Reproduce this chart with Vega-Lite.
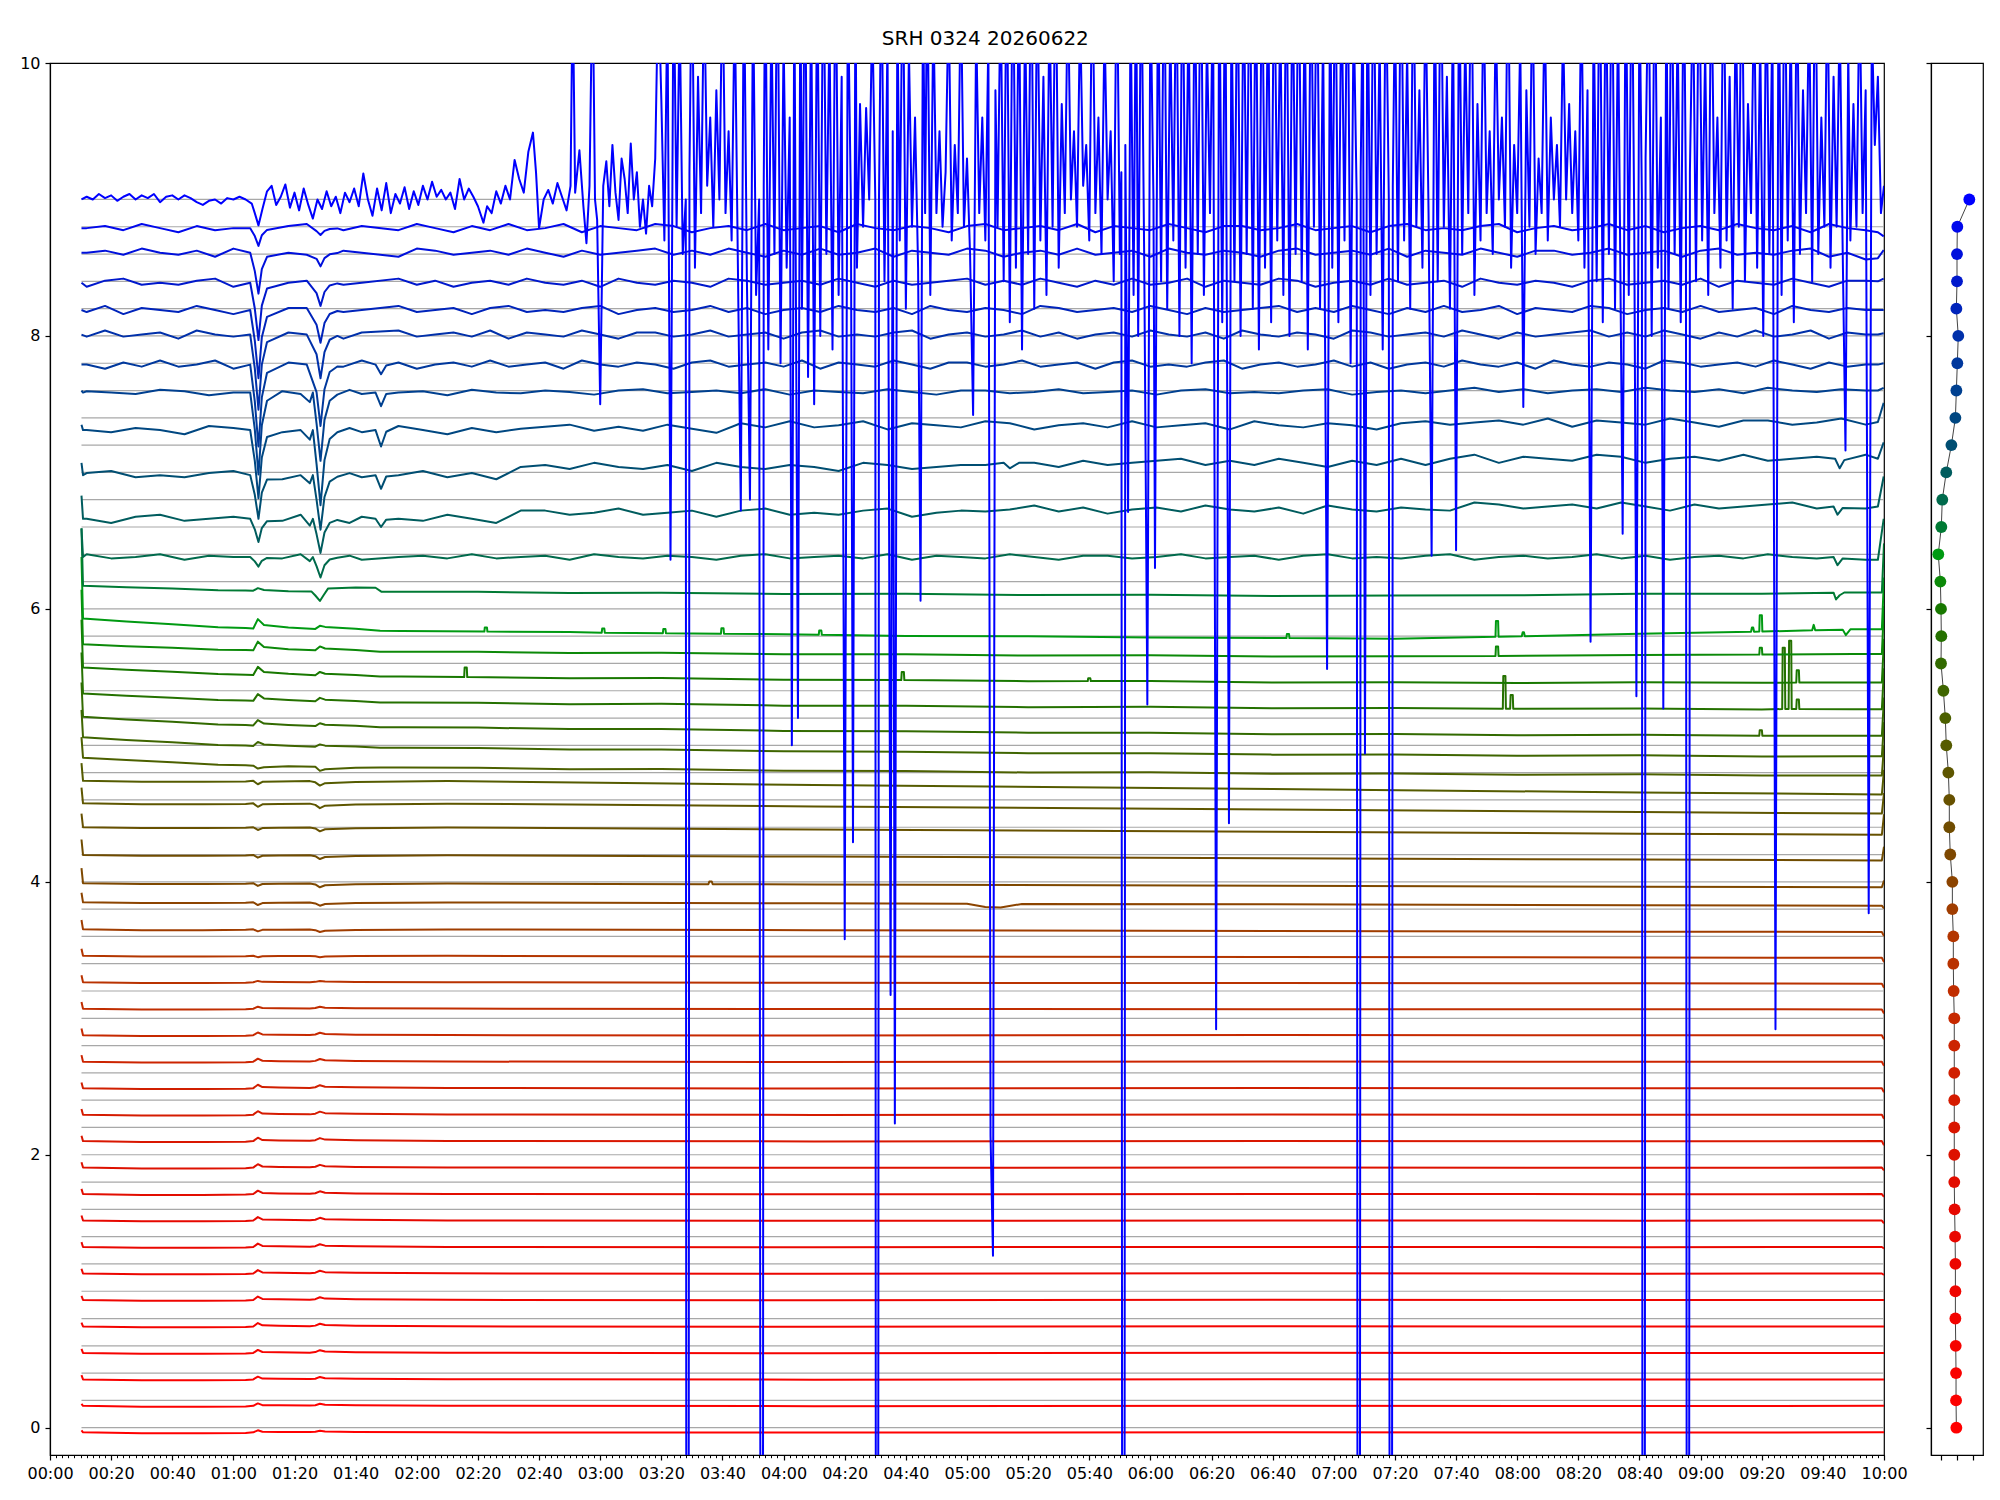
{
  "$schema": "https://vega.github.io/schema/vega-lite/v6.json",
  "title": {"text": "SRH 0324 20260622", "font": "DejaVu Sans", "fontSize": 20, "fontWeight": "normal", "color": "#000", "anchor": "middle", "baseline": "alphabetic", "offset": -11, "dx": -16},
  "padding": {"left": 19, "top": 29, "right": 10, "bottom": 10},
  "spacing": 47,
  "bounds": "flush",
  "config": {
    "view": {"stroke": "#000", "strokeWidth": 1.2},
    "axis": {"labelFont": "DejaVu Sans", "labelFontSize": 16, "labelColor": "#000", "tickColor": "#000", "domainColor": "#000", "tickWidth": 1.2, "domainWidth": 1.2, "grid": false, "title": null, "labelOverlap": false, "labelFlush": false}
  },
  "datasets": {
    "levels": [{"g":0},{"g":0.2},{"g":0.4},{"g":0.6},{"g":0.8},{"g":1},{"g":1.2},{"g":1.4},{"g":1.6},{"g":1.8},{"g":2},{"g":2.2},{"g":2.4},{"g":2.6},{"g":2.8},{"g":3},{"g":3.2},{"g":3.4},{"g":3.6},{"g":3.8},{"g":4},{"g":4.2},{"g":4.4},{"g":4.6},{"g":4.8},{"g":5},{"g":5.2},{"g":5.4},{"g":5.6},{"g":5.8},{"g":6},{"g":6.2},{"g":6.4},{"g":6.6},{"g":6.8},{"g":7},{"g":7.2},{"g":7.4},{"g":7.6},{"g":7.8},{"g":8},{"g":8.2},{"g":8.4},{"g":8.6},{"g":8.8},{"g":9}],
    "panel": [{"c":0,"y":0,"x":-0.04},{"c":1,"y":0.2,"x":-0.06},{"c":2,"y":0.4,"x":-0.06},{"c":3,"y":0.6,"x":-0.08},{"c":4,"y":0.8,"x":-0.1},{"c":5,"y":1,"x":-0.1},{"c":6,"y":1.2,"x":-0.1},{"c":7,"y":1.4,"x":-0.12},{"c":8,"y":1.6,"x":-0.15},{"c":9,"y":1.8,"x":-0.17},{"c":10,"y":2,"x":-0.17},{"c":11,"y":2.2,"x":-0.17},{"c":12,"y":2.4,"x":-0.17},{"c":13,"y":2.6,"x":-0.17},{"c":14,"y":2.8,"x":-0.17},{"c":15,"y":3,"x":-0.17},{"c":16,"y":3.2,"x":-0.21},{"c":17,"y":3.4,"x":-0.23},{"c":18,"y":3.6,"x":-0.23},{"c":19,"y":3.8,"x":-0.29},{"c":20,"y":4,"x":-0.29},{"c":21,"y":4.2,"x":-0.42},{"c":22,"y":4.4,"x":-0.48},{"c":23,"y":4.6,"x":-0.48},{"c":24,"y":4.8,"x":-0.54},{"c":25,"y":5,"x":-0.67},{"c":26,"y":5.2,"x":-0.73},{"c":27,"y":5.4,"x":-0.85},{"c":28,"y":5.6,"x":-1.0},{"c":29,"y":5.8,"x":-0.98},{"c":30,"y":6,"x":-1.0},{"c":31,"y":6.2,"x":-1.04},{"c":32,"y":6.4,"x":-1.17},{"c":33,"y":6.6,"x":-0.98},{"c":34,"y":6.8,"x":-0.92},{"c":35,"y":7,"x":-0.67},{"c":36,"y":7.2,"x":-0.35},{"c":37,"y":7.4,"x":-0.1},{"c":38,"y":7.6,"x":-0.04},{"c":39,"y":7.8,"x":0.02},{"c":40,"y":8,"x":0.08},{"c":41,"y":8.2,"x":-0.04},{"c":42,"y":8.4,"x":0.0},{"c":43,"y":8.6,"x":0.0},{"c":44,"y":8.8,"x":0.02},{"c":45,"y":9,"x":0.77}],
    "traces": [
{"c":0,"t":10.3,"v":-0.02},{"c":0,"t":10.8,"v":-0.034},{"c":0,"t":30,"v":-0.04},{"c":0,"t":50,"v":-0.04},{"c":0,"t":64,"v":-0.038},{"c":0,"t":66.5,"v":-0.034},{"c":0,"t":68,"v":-0.019},{"c":0,"t":69.5,"v":-0.03},{"c":0,"t":75,"v":-0.031},{"c":0,"t":85,"v":-0.032},{"c":0,"t":86.8,"v":-0.03},{"c":0,"t":88.3,"v":-0.022},{"c":0,"t":90,"v":-0.028},{"c":0,"t":100,"v":-0.031},{"c":0,"t":130,"v":-0.034},{"c":0,"t":250,"v":-0.036},{"c":0,"t":400,"v":-0.033},{"c":0,"t":520,"v":-0.035},{"c":0,"t":599.3,"v":-0.034},{"c":0,"t":600,"v":-0.034},
{"c":1,"t":10.3,"v":0.175},{"c":1,"t":10.8,"v":0.16},{"c":1,"t":30,"v":0.154},{"c":1,"t":50,"v":0.154},{"c":1,"t":64,"v":0.156},{"c":1,"t":66.5,"v":0.16},{"c":1,"t":68,"v":0.178},{"c":1,"t":69.5,"v":0.165},{"c":1,"t":75,"v":0.164},{"c":1,"t":85,"v":0.162},{"c":1,"t":86.8,"v":0.165},{"c":1,"t":88.3,"v":0.175},{"c":1,"t":90,"v":0.168},{"c":1,"t":100,"v":0.164},{"c":1,"t":130,"v":0.161},{"c":1,"t":250,"v":0.158},{"c":1,"t":400,"v":0.161},{"c":1,"t":520,"v":0.159},{"c":1,"t":599.3,"v":0.16},{"c":1,"t":600,"v":0.16},
{"c":2,"t":10.3,"v":0.385},{"c":2,"t":10.8,"v":0.354},{"c":2,"t":30,"v":0.348},{"c":2,"t":50,"v":0.348},{"c":2,"t":64,"v":0.35},{"c":2,"t":66.5,"v":0.354},{"c":2,"t":68,"v":0.374},{"c":2,"t":69.5,"v":0.36},{"c":2,"t":75,"v":0.358},{"c":2,"t":85,"v":0.356},{"c":2,"t":86.8,"v":0.359},{"c":2,"t":88.3,"v":0.372},{"c":2,"t":90,"v":0.363},{"c":2,"t":100,"v":0.358},{"c":2,"t":130,"v":0.355},{"c":2,"t":250,"v":0.352},{"c":2,"t":400,"v":0.355},{"c":2,"t":520,"v":0.353},{"c":2,"t":599.3,"v":0.354},{"c":2,"t":600,"v":0.354},
{"c":3,"t":10.3,"v":0.578},{"c":3,"t":10.8,"v":0.548},{"c":3,"t":30,"v":0.542},{"c":3,"t":50,"v":0.542},{"c":3,"t":64,"v":0.544},{"c":3,"t":66.5,"v":0.548},{"c":3,"t":68,"v":0.57},{"c":3,"t":69.5,"v":0.555},{"c":3,"t":75,"v":0.552},{"c":3,"t":85,"v":0.55},{"c":3,"t":86.8,"v":0.554},{"c":3,"t":88.3,"v":0.568},{"c":3,"t":90,"v":0.558},{"c":3,"t":100,"v":0.553},{"c":3,"t":130,"v":0.549},{"c":3,"t":250,"v":0.546},{"c":3,"t":400,"v":0.549},{"c":3,"t":520,"v":0.547},{"c":3,"t":599.3,"v":0.548},{"c":3,"t":600,"v":0.548},
{"c":4,"t":10.3,"v":0.77},{"c":4,"t":10.8,"v":0.742},{"c":4,"t":30,"v":0.736},{"c":4,"t":50,"v":0.736},{"c":4,"t":64,"v":0.738},{"c":4,"t":66.5,"v":0.742},{"c":4,"t":68,"v":0.767},{"c":4,"t":69.5,"v":0.75},{"c":4,"t":75,"v":0.747},{"c":4,"t":85,"v":0.744},{"c":4,"t":86.8,"v":0.748},{"c":4,"t":88.3,"v":0.762},{"c":4,"t":90,"v":0.752},{"c":4,"t":100,"v":0.747},{"c":4,"t":130,"v":0.743},{"c":4,"t":250,"v":0.74},{"c":4,"t":400,"v":0.743},{"c":4,"t":520,"v":0.741},{"c":4,"t":599.3,"v":0.742},{"c":4,"t":600,"v":0.742},
{"c":5,"t":10.3,"v":0.966},{"c":5,"t":10.8,"v":0.936},{"c":5,"t":30,"v":0.93},{"c":5,"t":50,"v":0.93},{"c":5,"t":64,"v":0.932},{"c":5,"t":66.5,"v":0.936},{"c":5,"t":68,"v":0.961},{"c":5,"t":69.5,"v":0.944},{"c":5,"t":75,"v":0.941},{"c":5,"t":85,"v":0.938},{"c":5,"t":86.8,"v":0.942},{"c":5,"t":88.3,"v":0.956},{"c":5,"t":90,"v":0.946},{"c":5,"t":100,"v":0.941},{"c":5,"t":130,"v":0.937},{"c":5,"t":250,"v":0.934},{"c":5,"t":400,"v":0.937},{"c":5,"t":520,"v":0.935},{"c":5,"t":599.3,"v":0.936},{"c":5,"t":600,"v":0.936},
{"c":6,"t":10.3,"v":1.165},{"c":6,"t":10.8,"v":1.13},{"c":6,"t":30,"v":1.124},{"c":6,"t":50,"v":1.124},{"c":6,"t":64,"v":1.126},{"c":6,"t":66.5,"v":1.13},{"c":6,"t":68,"v":1.155},{"c":6,"t":69.5,"v":1.138},{"c":6,"t":75,"v":1.135},{"c":6,"t":85,"v":1.132},{"c":6,"t":86.8,"v":1.136},{"c":6,"t":88.3,"v":1.15},{"c":6,"t":90,"v":1.14},{"c":6,"t":100,"v":1.135},{"c":6,"t":130,"v":1.131},{"c":6,"t":250,"v":1.128},{"c":6,"t":400,"v":1.131},{"c":6,"t":520,"v":1.129},{"c":6,"t":599.3,"v":1.13},{"c":6,"t":600,"v":1.12},
{"c":7,"t":10.3,"v":1.36},{"c":7,"t":10.8,"v":1.324},{"c":7,"t":30,"v":1.318},{"c":7,"t":50,"v":1.318},{"c":7,"t":64,"v":1.32},{"c":7,"t":66.5,"v":1.324},{"c":7,"t":68,"v":1.349},{"c":7,"t":69.5,"v":1.332},{"c":7,"t":75,"v":1.329},{"c":7,"t":85,"v":1.326},{"c":7,"t":86.8,"v":1.33},{"c":7,"t":88.3,"v":1.344},{"c":7,"t":90,"v":1.334},{"c":7,"t":100,"v":1.329},{"c":7,"t":130,"v":1.325},{"c":7,"t":250,"v":1.322},{"c":7,"t":400,"v":1.325},{"c":7,"t":520,"v":1.323},{"c":7,"t":599.3,"v":1.324},{"c":7,"t":600,"v":1.314},
{"c":8,"t":10.3,"v":1.555},{"c":8,"t":10.8,"v":1.518},{"c":8,"t":30,"v":1.512},{"c":8,"t":50,"v":1.512},{"c":8,"t":64,"v":1.514},{"c":8,"t":66.5,"v":1.518},{"c":8,"t":68,"v":1.543},{"c":8,"t":69.5,"v":1.526},{"c":8,"t":75,"v":1.523},{"c":8,"t":85,"v":1.52},{"c":8,"t":86.8,"v":1.524},{"c":8,"t":88.3,"v":1.538},{"c":8,"t":90,"v":1.528},{"c":8,"t":100,"v":1.523},{"c":8,"t":130,"v":1.519},{"c":8,"t":250,"v":1.516},{"c":8,"t":400,"v":1.519},{"c":8,"t":520,"v":1.517},{"c":8,"t":599.3,"v":1.518},{"c":8,"t":600,"v":1.498},
{"c":9,"t":10.3,"v":1.75},{"c":9,"t":10.8,"v":1.712},{"c":9,"t":30,"v":1.706},{"c":9,"t":50,"v":1.706},{"c":9,"t":64,"v":1.708},{"c":9,"t":66.5,"v":1.712},{"c":9,"t":68,"v":1.737},{"c":9,"t":69.5,"v":1.72},{"c":9,"t":75,"v":1.717},{"c":9,"t":85,"v":1.714},{"c":9,"t":86.8,"v":1.718},{"c":9,"t":88.3,"v":1.732},{"c":9,"t":90,"v":1.722},{"c":9,"t":100,"v":1.717},{"c":9,"t":130,"v":1.713},{"c":9,"t":250,"v":1.71},{"c":9,"t":400,"v":1.713},{"c":9,"t":520,"v":1.711},{"c":9,"t":599.3,"v":1.712},{"c":9,"t":600,"v":1.692},
{"c":10,"t":10.3,"v":1.945},{"c":10,"t":10.8,"v":1.906},{"c":10,"t":30,"v":1.9},{"c":10,"t":50,"v":1.9},{"c":10,"t":64,"v":1.902},{"c":10,"t":66.5,"v":1.906},{"c":10,"t":68,"v":1.931},{"c":10,"t":69.5,"v":1.914},{"c":10,"t":75,"v":1.911},{"c":10,"t":85,"v":1.908},{"c":10,"t":86.8,"v":1.912},{"c":10,"t":88.3,"v":1.926},{"c":10,"t":90,"v":1.916},{"c":10,"t":100,"v":1.911},{"c":10,"t":130,"v":1.907},{"c":10,"t":250,"v":1.904},{"c":10,"t":400,"v":1.907},{"c":10,"t":520,"v":1.905},{"c":10,"t":599.3,"v":1.906},{"c":10,"t":600,"v":1.886},
{"c":11,"t":10.3,"v":2.14},{"c":11,"t":10.8,"v":2.1},{"c":11,"t":30,"v":2.094},{"c":11,"t":50,"v":2.094},{"c":11,"t":64,"v":2.096},{"c":11,"t":66.5,"v":2.1},{"c":11,"t":68,"v":2.125},{"c":11,"t":69.5,"v":2.108},{"c":11,"t":75,"v":2.105},{"c":11,"t":85,"v":2.102},{"c":11,"t":86.8,"v":2.107},{"c":11,"t":88.3,"v":2.122},{"c":11,"t":90,"v":2.111},{"c":11,"t":100,"v":2.106},{"c":11,"t":130,"v":2.101},{"c":11,"t":250,"v":2.098},{"c":11,"t":400,"v":2.101},{"c":11,"t":520,"v":2.099},{"c":11,"t":599.3,"v":2.1},{"c":11,"t":600,"v":2.07},
{"c":12,"t":10.3,"v":2.335},{"c":12,"t":10.8,"v":2.294},{"c":12,"t":30,"v":2.288},{"c":12,"t":50,"v":2.288},{"c":12,"t":64,"v":2.29},{"c":12,"t":66.5,"v":2.294},{"c":12,"t":68,"v":2.319},{"c":12,"t":69.5,"v":2.302},{"c":12,"t":75,"v":2.299},{"c":12,"t":85,"v":2.296},{"c":12,"t":86.8,"v":2.301},{"c":12,"t":88.3,"v":2.316},{"c":12,"t":90,"v":2.305},{"c":12,"t":100,"v":2.3},{"c":12,"t":130,"v":2.295},{"c":12,"t":250,"v":2.292},{"c":12,"t":400,"v":2.295},{"c":12,"t":520,"v":2.293},{"c":12,"t":599.3,"v":2.294},{"c":12,"t":600,"v":2.264},
{"c":13,"t":10.3,"v":2.53},{"c":13,"t":10.8,"v":2.488},{"c":13,"t":30,"v":2.482},{"c":13,"t":50,"v":2.482},{"c":13,"t":64,"v":2.484},{"c":13,"t":66.5,"v":2.488},{"c":13,"t":68,"v":2.513},{"c":13,"t":69.5,"v":2.496},{"c":13,"t":75,"v":2.493},{"c":13,"t":85,"v":2.49},{"c":13,"t":86.8,"v":2.495},{"c":13,"t":88.3,"v":2.51},{"c":13,"t":90,"v":2.499},{"c":13,"t":100,"v":2.494},{"c":13,"t":130,"v":2.489},{"c":13,"t":250,"v":2.486},{"c":13,"t":400,"v":2.489},{"c":13,"t":520,"v":2.487},{"c":13,"t":599.3,"v":2.488},{"c":13,"t":600,"v":2.458},
{"c":14,"t":10.3,"v":2.73},{"c":14,"t":10.8,"v":2.682},{"c":14,"t":30,"v":2.676},{"c":14,"t":50,"v":2.676},{"c":14,"t":64,"v":2.678},{"c":14,"t":66.5,"v":2.682},{"c":14,"t":68,"v":2.704},{"c":14,"t":69.5,"v":2.689},{"c":14,"t":75,"v":2.686},{"c":14,"t":85,"v":2.684},{"c":14,"t":86.8,"v":2.688},{"c":14,"t":88.3,"v":2.702},{"c":14,"t":90,"v":2.692},{"c":14,"t":100,"v":2.687},{"c":14,"t":130,"v":2.683},{"c":14,"t":250,"v":2.68},{"c":14,"t":400,"v":2.683},{"c":14,"t":520,"v":2.681},{"c":14,"t":599.3,"v":2.682},{"c":14,"t":600,"v":2.652},
{"c":15,"t":10.3,"v":2.925},{"c":15,"t":10.8,"v":2.876},{"c":15,"t":30,"v":2.87},{"c":15,"t":50,"v":2.87},{"c":15,"t":64,"v":2.872},{"c":15,"t":66.5,"v":2.876},{"c":15,"t":68,"v":2.896},{"c":15,"t":69.5,"v":2.882},{"c":15,"t":75,"v":2.88},{"c":15,"t":85,"v":2.878},{"c":15,"t":86.8,"v":2.881},{"c":15,"t":88.3,"v":2.894},{"c":15,"t":90,"v":2.885},{"c":15,"t":100,"v":2.88},{"c":15,"t":130,"v":2.877},{"c":15,"t":250,"v":2.874},{"c":15,"t":400,"v":2.877},{"c":15,"t":520,"v":2.875},{"c":15,"t":599.3,"v":2.876},{"c":15,"t":600,"v":2.846},
{"c":16,"t":10.3,"v":3.12},{"c":16,"t":10.8,"v":3.07},{"c":16,"t":30,"v":3.064},{"c":16,"t":50,"v":3.064},{"c":16,"t":64,"v":3.066},{"c":16,"t":66.5,"v":3.07},{"c":16,"t":68,"v":3.085},{"c":16,"t":69.5,"v":3.075},{"c":16,"t":75,"v":3.073},{"c":16,"t":85,"v":3.072},{"c":16,"t":86.8,"v":3.075},{"c":16,"t":88.3,"v":3.085},{"c":16,"t":90,"v":3.078},{"c":16,"t":100,"v":3.074},{"c":16,"t":130,"v":3.071},{"c":16,"t":250,"v":3.068},{"c":16,"t":400,"v":3.067},{"c":16,"t":520,"v":3.066},{"c":16,"t":599.3,"v":3.065},{"c":16,"t":600,"v":3.035},
{"c":17,"t":10.3,"v":3.315},{"c":17,"t":10.8,"v":3.264},{"c":17,"t":30,"v":3.258},{"c":17,"t":50,"v":3.258},{"c":17,"t":64,"v":3.26},{"c":17,"t":66.5,"v":3.264},{"c":17,"t":68,"v":3.274},{"c":17,"t":69.5,"v":3.267},{"c":17,"t":75,"v":3.266},{"c":17,"t":85,"v":3.265},{"c":17,"t":86.8,"v":3.267},{"c":17,"t":88.3,"v":3.274},{"c":17,"t":90,"v":3.269},{"c":17,"t":100,"v":3.266},{"c":17,"t":130,"v":3.264},{"c":17,"t":250,"v":3.26},{"c":17,"t":400,"v":3.258},{"c":17,"t":520,"v":3.256},{"c":17,"t":599.3,"v":3.254},{"c":17,"t":600,"v":3.224},
{"c":18,"t":10.3,"v":3.51},{"c":18,"t":10.8,"v":3.458},{"c":18,"t":30,"v":3.452},{"c":18,"t":50,"v":3.452},{"c":18,"t":64,"v":3.454},{"c":18,"t":66.5,"v":3.458},{"c":18,"t":68,"v":3.448},{"c":18,"t":69.5,"v":3.455},{"c":18,"t":75,"v":3.456},{"c":18,"t":85,"v":3.457},{"c":18,"t":86.8,"v":3.455},{"c":18,"t":88.3,"v":3.448},{"c":18,"t":90,"v":3.453},{"c":18,"t":100,"v":3.456},{"c":18,"t":130,"v":3.458},{"c":18,"t":250,"v":3.453},{"c":18,"t":400,"v":3.449},{"c":18,"t":520,"v":3.446},{"c":18,"t":599.3,"v":3.443},{"c":18,"t":600,"v":3.413},
{"c":19,"t":10.3,"v":3.72},{"c":19,"t":10.8,"v":3.652},{"c":19,"t":30,"v":3.646},{"c":19,"t":50,"v":3.646},{"c":19,"t":64,"v":3.648},{"c":19,"t":66.5,"v":3.652},{"c":19,"t":68,"v":3.637},{"c":19,"t":69.5,"v":3.648},{"c":19,"t":75,"v":3.649},{"c":19,"t":85,"v":3.65},{"c":19,"t":86.8,"v":3.646},{"c":19,"t":88.3,"v":3.632},{"c":19,"t":90,"v":3.642},{"c":19,"t":100,"v":3.647},{"c":19,"t":130,"v":3.651},{"c":19,"t":250,"v":3.646},{"c":19,"t":400,"v":3.64},{"c":19,"t":520,"v":3.635},{"c":19,"t":599.3,"v":3.632},{"c":19,"t":600,"v":3.602},
{"c":20,"t":10.3,"v":3.92},{"c":20,"t":10.8,"v":3.85},{"c":20,"t":30,"v":3.844},{"c":20,"t":50,"v":3.844},{"c":20,"t":64,"v":3.846},{"c":20,"t":66.5,"v":3.85},{"c":20,"t":68,"v":3.83},{"c":20,"t":69.5,"v":3.844},{"c":20,"t":75,"v":3.846},{"c":20,"t":85,"v":3.848},{"c":20,"t":86.8,"v":3.842},{"c":20,"t":88.3,"v":3.825},{"c":20,"t":90,"v":3.838},{"c":20,"t":100,"v":3.844},{"c":20,"t":130,"v":3.849},{"c":20,"t":250,"v":3.843},{"c":20,"t":300,"v":3.84},{"c":20,"t":306,"v":3.815},{"c":20,"t":311,"v":3.812},{"c":20,"t":318,"v":3.838},{"c":20,"t":400,"v":3.835},{"c":20,"t":520,"v":3.829},{"c":20,"t":599.3,"v":3.825},{"c":20,"t":600,"v":3.805},
{"c":21,"t":10.3,"v":4.1},{"c":21,"t":10.8,"v":3.99},{"c":21,"t":30,"v":3.984},{"c":21,"t":50,"v":3.984},{"c":21,"t":64,"v":3.986},{"c":21,"t":66.5,"v":3.99},{"c":21,"t":68,"v":3.97},{"c":21,"t":69.5,"v":3.984},{"c":21,"t":75,"v":3.986},{"c":21,"t":85,"v":3.988},{"c":21,"t":86.8,"v":3.981},{"c":21,"t":88.3,"v":3.96},{"c":21,"t":90,"v":3.975},{"c":21,"t":100,"v":3.983},{"c":21,"t":130,"v":3.988},{"c":21,"t":215.4,"v":3.982},{"c":21,"t":215.7,"v":4.002},{"c":21,"t":216.5,"v":4.002},{"c":21,"t":216.8,"v":3.982},{"c":21,"t":250,"v":3.981},{"c":21,"t":400,"v":3.972},{"c":21,"t":520,"v":3.964},{"c":21,"t":599.3,"v":3.96},{"c":21,"t":600,"v":4.01},
{"c":22,"t":10.3,"v":4.31},{"c":22,"t":10.8,"v":4.197},{"c":22,"t":30,"v":4.191},{"c":22,"t":50,"v":4.191},{"c":22,"t":64,"v":4.193},{"c":22,"t":66.5,"v":4.197},{"c":22,"t":68,"v":4.177},{"c":22,"t":69.5,"v":4.191},{"c":22,"t":75,"v":4.193},{"c":22,"t":85,"v":4.195},{"c":22,"t":86.8,"v":4.188},{"c":22,"t":88.3,"v":4.167},{"c":22,"t":90,"v":4.182},{"c":22,"t":100,"v":4.19},{"c":22,"t":130,"v":4.195},{"c":22,"t":250,"v":4.185},{"c":22,"t":400,"v":4.173},{"c":22,"t":520,"v":4.163},{"c":22,"t":599.3,"v":4.157},{"c":22,"t":600,"v":4.257},
{"c":23,"t":10.3,"v":4.5},{"c":23,"t":10.8,"v":4.4},{"c":23,"t":30,"v":4.394},{"c":23,"t":50,"v":4.394},{"c":23,"t":64,"v":4.396},{"c":23,"t":66.5,"v":4.4},{"c":23,"t":68,"v":4.38},{"c":23,"t":69.5,"v":4.394},{"c":23,"t":75,"v":4.396},{"c":23,"t":85,"v":4.398},{"c":23,"t":86.8,"v":4.391},{"c":23,"t":88.3,"v":4.37},{"c":23,"t":90,"v":4.385},{"c":23,"t":100,"v":4.393},{"c":23,"t":130,"v":4.398},{"c":23,"t":250,"v":4.384},{"c":23,"t":400,"v":4.367},{"c":23,"t":520,"v":4.353},{"c":23,"t":599.3,"v":4.345},{"c":23,"t":600,"v":4.495},
{"c":24,"t":10.3,"v":4.69},{"c":24,"t":10.8,"v":4.575},{"c":24,"t":30,"v":4.569},{"c":24,"t":50,"v":4.569},{"c":24,"t":64,"v":4.571},{"c":24,"t":66.5,"v":4.575},{"c":24,"t":68,"v":4.55},{"c":24,"t":69.5,"v":4.568},{"c":24,"t":75,"v":4.57},{"c":24,"t":85,"v":4.573},{"c":24,"t":86.8,"v":4.564},{"c":24,"t":88.3,"v":4.54},{"c":24,"t":90,"v":4.558},{"c":24,"t":100,"v":4.566},{"c":24,"t":130,"v":4.573},{"c":24,"t":250,"v":4.552},{"c":24,"t":400,"v":4.53},{"c":24,"t":520,"v":4.511},{"c":24,"t":599.3,"v":4.5},{"c":24,"t":600,"v":4.65},
{"c":25,"t":10.3,"v":4.87},{"c":25,"t":10.8,"v":4.74},{"c":25,"t":30,"v":4.734},{"c":25,"t":50,"v":4.734},{"c":25,"t":64,"v":4.736},{"c":25,"t":66.5,"v":4.74},{"c":25,"t":68,"v":4.715},{"c":25,"t":69.5,"v":4.733},{"c":25,"t":75,"v":4.735},{"c":25,"t":85,"v":4.738},{"c":25,"t":86.8,"v":4.729},{"c":25,"t":88.3,"v":4.705},{"c":25,"t":90,"v":4.723},{"c":25,"t":100,"v":4.731},{"c":25,"t":130,"v":4.738},{"c":25,"t":250,"v":4.71},{"c":25,"t":400,"v":4.68},{"c":25,"t":520,"v":4.655},{"c":25,"t":599.3,"v":4.64},{"c":25,"t":600,"v":4.82},
{"c":26,"t":10.3,"v":5.06},{"c":26,"t":10.8,"v":4.91},{"c":26,"t":25,"v":4.892},{"c":26,"t":40,"v":4.876},{"c":26,"t":55,"v":4.858},{"c":26,"t":64,"v":4.854},{"c":26,"t":66.5,"v":4.851},{"c":26,"t":68,"v":4.83},{"c":26,"t":70,"v":4.84},{"c":26,"t":78,"v":4.846},{"c":26,"t":86.8,"v":4.843},{"c":26,"t":88.3,"v":4.813},{"c":26,"t":90,"v":4.825},{"c":26,"t":100,"v":4.835},{"c":26,"t":108,"v":4.838},{"c":26,"t":115,"v":4.838},{"c":26,"t":140,"v":4.836},{"c":26,"t":170,"v":4.825},{"c":26,"t":200,"v":4.827},{"c":26,"t":240,"v":4.813},{"c":26,"t":280,"v":4.812},{"c":26,"t":320,"v":4.801},{"c":26,"t":360,"v":4.803},{"c":26,"t":400,"v":4.792},{"c":26,"t":440,"v":4.793},{"c":26,"t":480,"v":4.784},{"c":26,"t":520,"v":4.788},{"c":26,"t":560,"v":4.779},{"c":26,"t":590,"v":4.78},{"c":26,"t":599.3,"v":4.78},{"c":26,"t":600,"v":5.0},
{"c":27,"t":10.3,"v":5.26},{"c":27,"t":10.8,"v":5.06},{"c":27,"t":25,"v":5.04},{"c":27,"t":40,"v":5.023},{"c":27,"t":55,"v":5.003},{"c":27,"t":64,"v":4.999},{"c":27,"t":66.5,"v":4.996},{"c":27,"t":68,"v":5.025},{"c":27,"t":70,"v":5.006},{"c":27,"t":78,"v":4.997},{"c":27,"t":86.8,"v":4.99},{"c":27,"t":88.3,"v":5.007},{"c":27,"t":90,"v":4.998},{"c":27,"t":100,"v":4.991},{"c":27,"t":108,"v":4.983},{"c":27,"t":115,"v":4.982},{"c":27,"t":140,"v":4.98},{"c":27,"t":170,"v":4.969},{"c":27,"t":200,"v":4.969},{"c":27,"t":240,"v":4.956},{"c":27,"t":280,"v":4.954},{"c":27,"t":320,"v":4.943},{"c":27,"t":360,"v":4.943},{"c":27,"t":400,"v":4.932},{"c":27,"t":440,"v":4.933},{"c":27,"t":480,"v":4.924},{"c":27,"t":520,"v":4.928},{"c":27,"t":560,"v":4.919},{"c":27,"t":590,"v":4.92},{"c":27,"t":599.3,"v":4.92},{"c":27,"t":600,"v":5.17},
{"c":28,"t":10.3,"v":5.46},{"c":28,"t":10.8,"v":5.21},{"c":28,"t":25,"v":5.19},{"c":28,"t":40,"v":5.173},{"c":28,"t":55,"v":5.153},{"c":28,"t":64,"v":5.149},{"c":28,"t":66.5,"v":5.146},{"c":28,"t":68,"v":5.185},{"c":28,"t":70,"v":5.16},{"c":28,"t":78,"v":5.149},{"c":28,"t":86.8,"v":5.141},{"c":28,"t":88.3,"v":5.162},{"c":28,"t":90,"v":5.151},{"c":28,"t":100,"v":5.143},{"c":28,"t":108,"v":5.133},{"c":28,"t":115,"v":5.132},{"c":28,"t":140,"v":5.13},{"c":28,"t":170,"v":5.119},{"c":28,"t":200,"v":5.119},{"c":28,"t":240,"v":5.106},{"c":28,"t":280,"v":5.104},{"c":28,"t":320,"v":5.093},{"c":28,"t":360,"v":5.093},{"c":28,"t":400,"v":5.082},{"c":28,"t":440,"v":5.083},{"c":28,"t":480,"v":5.074},{"c":28,"t":520,"v":5.078},{"c":28,"t":559.2,"v":5.071},{"c":28,"t":559.35,"v":5.111},{"c":28,"t":560.05,"v":5.111},{"c":28,"t":560.2,"v":5.071},{"c":28,"t":590,"v":5.07},{"c":28,"t":599.3,"v":5.07},{"c":28,"t":600,"v":5.35},
{"c":29,"t":10.3,"v":5.68},{"c":29,"t":10.8,"v":5.38},{"c":29,"t":25,"v":5.364},{"c":29,"t":40,"v":5.349},{"c":29,"t":55,"v":5.332},{"c":29,"t":64,"v":5.328},{"c":29,"t":66.5,"v":5.326},{"c":29,"t":68,"v":5.375},{"c":29,"t":70,"v":5.344},{"c":29,"t":78,"v":5.332},{"c":29,"t":86.8,"v":5.323},{"c":29,"t":88.3,"v":5.348},{"c":29,"t":90,"v":5.335},{"c":29,"t":100,"v":5.325},{"c":29,"t":108,"v":5.314},{"c":29,"t":115,"v":5.314},{"c":29,"t":140,"v":5.313},{"c":29,"t":170,"v":5.302},{"c":29,"t":200,"v":5.304},{"c":29,"t":240,"v":5.291},{"c":29,"t":280,"v":5.291},{"c":29,"t":320,"v":5.28},{"c":29,"t":360,"v":5.282},{"c":29,"t":400,"v":5.271},{"c":29,"t":440,"v":5.273},{"c":29,"t":475.3,"v":5.269},{"c":29,"t":475.45,"v":5.509},{"c":29,"t":476.15,"v":5.509},{"c":29,"t":476.3,"v":5.269},{"c":29,"t":477.7,"v":5.269},{"c":29,"t":477.85,"v":5.369},{"c":29,"t":478.55,"v":5.369},{"c":29,"t":478.7,"v":5.269},{"c":29,"t":520,"v":5.27},{"c":29,"t":560,"v":5.263},{"c":29,"t":566.7,"v":5.266},{"c":29,"t":566.85,"v":5.716},{"c":29,"t":567.55,"v":5.716},{"c":29,"t":567.7,"v":5.266},{"c":29,"t":568.8,"v":5.266},{"c":29,"t":568.95,"v":5.766},{"c":29,"t":569.65,"v":5.766},{"c":29,"t":569.8,"v":5.266},{"c":29,"t":571.3,"v":5.266},{"c":29,"t":571.45,"v":5.336},{"c":29,"t":572.15,"v":5.336},{"c":29,"t":572.3,"v":5.266},{"c":29,"t":590,"v":5.265},{"c":29,"t":599.3,"v":5.265},{"c":29,"t":600,"v":5.565},
{"c":30,"t":10.3,"v":5.92},{"c":30,"t":10.8,"v":5.57},{"c":30,"t":25,"v":5.554},{"c":30,"t":40,"v":5.539},{"c":30,"t":55,"v":5.522},{"c":30,"t":64,"v":5.518},{"c":30,"t":66.5,"v":5.516},{"c":30,"t":68,"v":5.575},{"c":30,"t":70,"v":5.538},{"c":30,"t":78,"v":5.524},{"c":30,"t":86.8,"v":5.514},{"c":30,"t":88.3,"v":5.538},{"c":30,"t":90,"v":5.525},{"c":30,"t":100,"v":5.515},{"c":30,"t":108,"v":5.504},{"c":30,"t":115,"v":5.504},{"c":30,"t":135.5,"v":5.5},{"c":30,"t":135.65,"v":5.57},{"c":30,"t":136.35,"v":5.57},{"c":30,"t":136.5,"v":5.5},{"c":30,"t":170,"v":5.492},{"c":30,"t":200,"v":5.494},{"c":30,"t":240,"v":5.481},{"c":30,"t":278.5,"v":5.478},{"c":30,"t":278.65,"v":5.538},{"c":30,"t":279.35,"v":5.538},{"c":30,"t":279.5,"v":5.478},{"c":30,"t":320,"v":5.47},{"c":30,"t":339.5,"v":5.471},{"c":30,"t":339.65,"v":5.491},{"c":30,"t":340.35,"v":5.491},{"c":30,"t":340.5,"v":5.471},{"c":30,"t":360,"v":5.472},{"c":30,"t":400,"v":5.461},{"c":30,"t":440,"v":5.463},{"c":30,"t":480,"v":5.457},{"c":30,"t":520,"v":5.462},{"c":30,"t":560,"v":5.458},{"c":30,"t":571.3,"v":5.46},{"c":30,"t":571.45,"v":5.55},{"c":30,"t":572.15,"v":5.55},{"c":30,"t":572.3,"v":5.46},{"c":30,"t":590,"v":5.46},{"c":30,"t":599.3,"v":5.46},{"c":30,"t":600,"v":5.78},
{"c":31,"t":10.3,"v":6.14},{"c":31,"t":10.8,"v":5.74},{"c":31,"t":25,"v":5.727},{"c":31,"t":40,"v":5.715},{"c":31,"t":55,"v":5.7},{"c":31,"t":64,"v":5.698},{"c":31,"t":66.5,"v":5.696},{"c":31,"t":68,"v":5.76},{"c":31,"t":70,"v":5.72},{"c":31,"t":78,"v":5.705},{"c":31,"t":86.8,"v":5.697},{"c":31,"t":88.3,"v":5.725},{"c":31,"t":90,"v":5.71},{"c":31,"t":100,"v":5.698},{"c":31,"t":108,"v":5.686},{"c":31,"t":115,"v":5.686},{"c":31,"t":140,"v":5.685},{"c":31,"t":170,"v":5.676},{"c":31,"t":200,"v":5.678},{"c":31,"t":240,"v":5.667},{"c":31,"t":280,"v":5.667},{"c":31,"t":320,"v":5.658},{"c":31,"t":360,"v":5.66},{"c":31,"t":400,"v":5.651},{"c":31,"t":440,"v":5.653},{"c":31,"t":472.9,"v":5.655},{"c":31,"t":473.05,"v":5.725},{"c":31,"t":473.75,"v":5.725},{"c":31,"t":473.9,"v":5.655},{"c":31,"t":520,"v":5.662},{"c":31,"t":559.2,"v":5.665},{"c":31,"t":559.35,"v":5.715},{"c":31,"t":560.05,"v":5.715},{"c":31,"t":560.2,"v":5.665},{"c":31,"t":590,"v":5.67},{"c":31,"t":599.3,"v":5.67},{"c":31,"t":600,"v":6.02},
{"c":32,"t":10.3,"v":6.38},{"c":32,"t":10.8,"v":5.93},{"c":32,"t":25,"v":5.908},{"c":32,"t":40,"v":5.887},{"c":32,"t":55,"v":5.865},{"c":32,"t":64,"v":5.86},{"c":32,"t":66.5,"v":5.856},{"c":32,"t":68,"v":5.925},{"c":32,"t":70,"v":5.882},{"c":32,"t":78,"v":5.864},{"c":32,"t":86.8,"v":5.853},{"c":32,"t":88.3,"v":5.876},{"c":32,"t":90,"v":5.868},{"c":32,"t":100,"v":5.855},{"c":32,"t":108,"v":5.84},{"c":32,"t":115,"v":5.838},{"c":32,"t":142.1,"v":5.834},{"c":32,"t":142.25,"v":5.864},{"c":32,"t":142.95,"v":5.864},{"c":32,"t":143.1,"v":5.834},{"c":32,"t":170,"v":5.83},{"c":32,"t":180.5,"v":5.826},{"c":32,"t":180.65,"v":5.856},{"c":32,"t":181.35,"v":5.856},{"c":32,"t":181.5,"v":5.826},{"c":32,"t":200.5,"v":5.822},{"c":32,"t":200.65,"v":5.852},{"c":32,"t":201.35,"v":5.852},{"c":32,"t":201.5,"v":5.822},{"c":32,"t":219.5,"v":5.818},{"c":32,"t":219.65,"v":5.858},{"c":32,"t":220.35,"v":5.858},{"c":32,"t":220.5,"v":5.818},{"c":32,"t":240,"v":5.815},{"c":32,"t":251.5,"v":5.811},{"c":32,"t":251.65,"v":5.841},{"c":32,"t":252.35,"v":5.841},{"c":32,"t":252.5,"v":5.811},{"c":32,"t":280,"v":5.802},{"c":32,"t":320,"v":5.8},{"c":32,"t":360,"v":5.79},{"c":32,"t":404.5,"v":5.786},{"c":32,"t":404.65,"v":5.816},{"c":32,"t":405.35,"v":5.816},{"c":32,"t":405.5,"v":5.786},{"c":32,"t":440,"v":5.782},{"c":32,"t":472.9,"v":5.796},{"c":32,"t":473.05,"v":5.911},{"c":32,"t":473.75,"v":5.911},{"c":32,"t":473.9,"v":5.796},{"c":32,"t":481.5,"v":5.799},{"c":32,"t":481.8,"v":5.829},{"c":32,"t":482.2,"v":5.829},{"c":32,"t":482.5,"v":5.799},{"c":32,"t":520,"v":5.818},{"c":32,"t":556.5,"v":5.833},{"c":32,"t":556.8,"v":5.863},{"c":32,"t":557.2,"v":5.863},{"c":32,"t":557.5,"v":5.833},{"c":32,"t":559.2,"v":5.834},{"c":32,"t":559.35,"v":5.954},{"c":32,"t":560.05,"v":5.954},{"c":32,"t":560.2,"v":5.834},{"c":32,"t":576.5,"v":5.843},{"c":32,"t":577,"v":5.883},{"c":32,"t":577.5,"v":5.843},{"c":32,"t":586.5,"v":5.848},{"c":32,"t":587.5,"v":5.808},{"c":32,"t":589,"v":5.85},{"c":32,"t":599.3,"v":5.85},{"c":32,"t":600,"v":6.23},
{"c":33,"t":10.3,"v":6.59},{"c":33,"t":10.8,"v":6.17},{"c":33,"t":25,"v":6.159},{"c":33,"t":40,"v":6.15},{"c":33,"t":55,"v":6.137},{"c":33,"t":64,"v":6.135},{"c":33,"t":66.5,"v":6.133},{"c":33,"t":68,"v":6.152},{"c":33,"t":70,"v":6.138},{"c":33,"t":78,"v":6.13},{"c":33,"t":85.5,"v":6.128},{"c":33,"t":86.8,"v":6.098},{"c":33,"t":88.3,"v":6.058},{"c":33,"t":89.5,"v":6.1},{"c":33,"t":91,"v":6.15},{"c":33,"t":100,"v":6.156},{"c":33,"t":106.5,"v":6.155},{"c":33,"t":108.5,"v":6.125},{"c":33,"t":115,"v":6.125},{"c":33,"t":140,"v":6.125},{"c":33,"t":170,"v":6.116},{"c":33,"t":200,"v":6.119},{"c":33,"t":240,"v":6.109},{"c":33,"t":280,"v":6.11},{"c":33,"t":320,"v":6.101},{"c":33,"t":360,"v":6.104},{"c":33,"t":400,"v":6.095},{"c":33,"t":440,"v":6.098},{"c":33,"t":480,"v":6.099},{"c":33,"t":520,"v":6.111},{"c":33,"t":560,"v":6.111},{"c":33,"t":583.5,"v":6.119},{"c":33,"t":584.3,"v":6.069},{"c":33,"t":585.5,"v":6.1},{"c":33,"t":587,"v":6.12},{"c":33,"t":599.3,"v":6.12},{"c":33,"t":600,"v":6.48},
{"c":34,"t":10.3,"v":6.59},{"c":34,"t":10.8,"v":6.38},{"c":34,"t":12,"v":6.40},{"c":34,"t":20,"v":6.37},{"c":34,"t":28,"v":6.38},{"c":34,"t":36,"v":6.40},{"c":34,"t":44,"v":6.36},{"c":34,"t":52,"v":6.39},{"c":34,"t":60,"v":6.38},{"c":34,"t":65.5,"v":6.38},{"c":34,"t":67,"v":6.348},{"c":34,"t":68.2,"v":6.31},{"c":34,"t":69.3,"v":6.352},{"c":34,"t":71,"v":6.373},{"c":34,"t":76,"v":6.37},{"c":34,"t":82,"v":6.40},{"c":34,"t":85,"v":6.35},{"c":34,"t":86,"v":6.38},{"c":34,"t":87.2,"v":6.313},{"c":34,"t":88.5,"v":6.23},{"c":34,"t":89.8,"v":6.32},{"c":34,"t":91.5,"v":6.362},{"c":34,"t":94,"v":6.375},{"c":34,"t":98,"v":6.39},{"c":34,"t":102,"v":6.36},{"c":34,"t":114,"v":6.38},{"c":34,"t":122,"v":6.39},{"c":34,"t":130,"v":6.37},{"c":34,"t":138,"v":6.40},{"c":34,"t":146,"v":6.37},{"c":34,"t":154,"v":6.38},{"c":34,"t":162,"v":6.39},{"c":34,"t":170,"v":6.36},{"c":34,"t":178,"v":6.40},{"c":34,"t":186,"v":6.38},{"c":34,"t":194,"v":6.37},{"c":34,"t":202,"v":6.39},{"c":34,"t":210,"v":6.38},{"c":34,"t":218,"v":6.36},{"c":34,"t":226,"v":6.39},{"c":34,"t":234,"v":6.40},{"c":34,"t":242,"v":6.37},{"c":34,"t":250,"v":6.38},{"c":34,"t":258,"v":6.39},{"c":34,"t":266,"v":6.37},{"c":34,"t":274,"v":6.40},{"c":34,"t":282,"v":6.36},{"c":34,"t":290,"v":6.39},{"c":34,"t":298,"v":6.38},{"c":34,"t":306,"v":6.37},{"c":34,"t":314,"v":6.40},{"c":34,"t":322,"v":6.38},{"c":34,"t":330,"v":6.36},{"c":34,"t":338,"v":6.39},{"c":34,"t":346,"v":6.39},{"c":34,"t":354,"v":6.37},{"c":34,"t":362,"v":6.38},{"c":34,"t":370,"v":6.40},{"c":34,"t":378,"v":6.37},{"c":34,"t":386,"v":6.38},{"c":34,"t":394,"v":6.39},{"c":34,"t":402,"v":6.36},{"c":34,"t":410,"v":6.39},{"c":34,"t":418,"v":6.40},{"c":34,"t":426,"v":6.37},{"c":34,"t":434,"v":6.38},{"c":34,"t":442,"v":6.37},{"c":34,"t":450,"v":6.39},{"c":34,"t":458,"v":6.40},{"c":34,"t":466,"v":6.36},{"c":34,"t":474,"v":6.38},{"c":34,"t":482,"v":6.39},{"c":34,"t":490,"v":6.37},{"c":34,"t":498,"v":6.38},{"c":34,"t":506,"v":6.40},{"c":34,"t":514,"v":6.37},{"c":34,"t":522,"v":6.39},{"c":34,"t":530,"v":6.36},{"c":34,"t":538,"v":6.38},{"c":34,"t":546,"v":6.39},{"c":34,"t":554,"v":6.37},{"c":34,"t":562,"v":6.40},{"c":34,"t":570,"v":6.38},{"c":34,"t":578,"v":6.37},{"c":34,"t":583.5,"v":6.38},{"c":34,"t":584.8,"v":6.32},{"c":34,"t":586.5,"v":6.37},{"c":34,"t":594,"v":6.36},{"c":34,"t":598,"v":6.36},{"c":34,"t":599.9,"v":6.66},
{"c":35,"t":10.3,"v":6.83},{"c":35,"t":10.8,"v":6.66},{"c":35,"t":12,"v":6.66},{"c":35,"t":20,"v":6.63},{"c":35,"t":28,"v":6.675},{"c":35,"t":36,"v":6.69},{"c":35,"t":44,"v":6.645},{"c":35,"t":52,"v":6.66},{"c":35,"t":60,"v":6.675},{"c":35,"t":65.5,"v":6.66},{"c":35,"t":67,"v":6.583},{"c":35,"t":68.2,"v":6.49},{"c":35,"t":69.3,"v":6.592},{"c":35,"t":71,"v":6.643},{"c":35,"t":76,"v":6.645},{"c":35,"t":82,"v":6.69},{"c":35,"t":85,"v":6.61},{"c":35,"t":86,"v":6.66},{"c":35,"t":87.2,"v":6.548},{"c":35,"t":88.5,"v":6.41},{"c":35,"t":89.8,"v":6.56},{"c":35,"t":91.5,"v":6.63},{"c":35,"t":94,"v":6.652},{"c":35,"t":98,"v":6.63},{"c":35,"t":102,"v":6.675},{"c":35,"t":106.5,"v":6.66},{"c":35,"t":108.3,"v":6.60},{"c":35,"t":110,"v":6.654},{"c":35,"t":114,"v":6.66},{"c":35,"t":122,"v":6.645},{"c":35,"t":130,"v":6.69},{"c":35,"t":138,"v":6.66},{"c":35,"t":146,"v":6.63},{"c":35,"t":154,"v":6.72},{"c":35,"t":162,"v":6.72},{"c":35,"t":170,"v":6.69},{"c":35,"t":178,"v":6.705},{"c":35,"t":186,"v":6.735},{"c":35,"t":194,"v":6.69},{"c":35,"t":202,"v":6.705},{"c":35,"t":210,"v":6.72},{"c":35,"t":218,"v":6.675},{"c":35,"t":226,"v":6.72},{"c":35,"t":234,"v":6.735},{"c":35,"t":242,"v":6.69},{"c":35,"t":250,"v":6.705},{"c":35,"t":258,"v":6.69},{"c":35,"t":266,"v":6.72},{"c":35,"t":274,"v":6.735},{"c":35,"t":282,"v":6.675},{"c":35,"t":290,"v":6.705},{"c":35,"t":298,"v":6.72},{"c":35,"t":306,"v":6.713},{"c":35,"t":314,"v":6.728},{"c":35,"t":322,"v":6.758},{"c":35,"t":330,"v":6.713},{"c":35,"t":338,"v":6.743},{"c":35,"t":346,"v":6.698},{"c":35,"t":354,"v":6.728},{"c":35,"t":362,"v":6.743},{"c":35,"t":370,"v":6.713},{"c":35,"t":378,"v":6.758},{"c":35,"t":386,"v":6.728},{"c":35,"t":394,"v":6.713},{"c":35,"t":402,"v":6.743},{"c":35,"t":410,"v":6.698},{"c":35,"t":418,"v":6.758},{"c":35,"t":426,"v":6.728},{"c":35,"t":434,"v":6.713},{"c":35,"t":442,"v":6.743},{"c":35,"t":450,"v":6.728},{"c":35,"t":458,"v":6.72},{"c":35,"t":466,"v":6.78},{"c":35,"t":474,"v":6.765},{"c":35,"t":482,"v":6.735},{"c":35,"t":490,"v":6.75},{"c":35,"t":498,"v":6.765},{"c":35,"t":506,"v":6.735},{"c":35,"t":514,"v":6.78},{"c":35,"t":522,"v":6.75},{"c":35,"t":530,"v":6.72},{"c":35,"t":538,"v":6.765},{"c":35,"t":546,"v":6.735},{"c":35,"t":554,"v":6.75},{"c":35,"t":562,"v":6.765},{"c":35,"t":570,"v":6.78},{"c":35,"t":578,"v":6.735},{"c":35,"t":583.5,"v":6.75},{"c":35,"t":584.8,"v":6.69},{"c":35,"t":586.5,"v":6.74},{"c":35,"t":594,"v":6.735},{"c":35,"t":598,"v":6.75},{"c":35,"t":599.9,"v":6.97},
{"c":36,"t":10.3,"v":7.07},{"c":36,"t":10.8,"v":6.98},{"c":36,"t":12,"v":6.995},{"c":36,"t":20,"v":7.01},{"c":36,"t":28,"v":6.965},{"c":36,"t":36,"v":6.98},{"c":36,"t":44,"v":6.965},{"c":36,"t":52,"v":6.995},{"c":36,"t":60,"v":7.01},{"c":36,"t":65.5,"v":6.98},{"c":36,"t":67,"v":6.836},{"c":36,"t":68.2,"v":6.66},{"c":36,"t":69.3,"v":6.852},{"c":36,"t":71,"v":6.948},{"c":36,"t":76,"v":6.95},{"c":36,"t":82,"v":6.98},{"c":36,"t":85,"v":6.92},{"c":36,"t":86,"v":6.98},{"c":36,"t":87.2,"v":6.80},{"c":36,"t":88.5,"v":6.58},{"c":36,"t":89.8,"v":6.82},{"c":36,"t":91.5,"v":6.932},{"c":36,"t":94,"v":6.968},{"c":36,"t":98,"v":6.995},{"c":36,"t":102,"v":6.965},{"c":36,"t":106.5,"v":6.98},{"c":36,"t":108.3,"v":6.88},{"c":36,"t":110,"v":6.97},{"c":36,"t":114,"v":6.98},{"c":36,"t":122,"v":7.01},{"c":36,"t":130,"v":6.965},{"c":36,"t":138,"v":6.995},{"c":36,"t":146,"v":6.95},{"c":36,"t":154,"v":7.04},{"c":36,"t":162,"v":7.055},{"c":36,"t":170,"v":7.025},{"c":36,"t":178,"v":7.07},{"c":36,"t":186,"v":7.04},{"c":36,"t":194,"v":7.025},{"c":36,"t":202,"v":7.055},{"c":36,"t":210,"v":7.01},{"c":36,"t":218,"v":7.07},{"c":36,"t":226,"v":7.04},{"c":36,"t":234,"v":7.025},{"c":36,"t":242,"v":7.055},{"c":36,"t":250,"v":7.04},{"c":36,"t":258,"v":7.01},{"c":36,"t":266,"v":7.07},{"c":36,"t":274,"v":7.055},{"c":36,"t":282,"v":7.025},{"c":36,"t":290,"v":7.04},{"c":36,"t":298,"v":7.055},{"c":36,"t":306,"v":7.055},{"c":36,"t":312,"v":7.07},{"c":36,"t":314,"v":7.03},{"c":36,"t":317,"v":7.07},{"c":36,"t":322,"v":7.07},{"c":36,"t":330,"v":7.04},{"c":36,"t":338,"v":7.085},{"c":36,"t":346,"v":7.055},{"c":36,"t":354,"v":7.07},{"c":36,"t":362,"v":7.085},{"c":36,"t":370,"v":7.10},{"c":36,"t":378,"v":7.055},{"c":36,"t":386,"v":7.085},{"c":36,"t":394,"v":7.055},{"c":36,"t":402,"v":7.10},{"c":36,"t":410,"v":7.07},{"c":36,"t":418,"v":7.04},{"c":36,"t":426,"v":7.085},{"c":36,"t":434,"v":7.055},{"c":36,"t":442,"v":7.10},{"c":36,"t":450,"v":7.055},{"c":36,"t":458,"v":7.10},{"c":36,"t":466,"v":7.13},{"c":36,"t":474,"v":7.07},{"c":36,"t":482,"v":7.115},{"c":36,"t":490,"v":7.10},{"c":36,"t":498,"v":7.085},{"c":36,"t":506,"v":7.13},{"c":36,"t":514,"v":7.115},{"c":36,"t":522,"v":7.07},{"c":36,"t":530,"v":7.10},{"c":36,"t":538,"v":7.115},{"c":36,"t":546,"v":7.085},{"c":36,"t":554,"v":7.13},{"c":36,"t":562,"v":7.085},{"c":36,"t":570,"v":7.10},{"c":36,"t":578,"v":7.115},{"c":36,"t":584,"v":7.10},{"c":36,"t":585.5,"v":7.03},{"c":36,"t":587,"v":7.09},{"c":36,"t":594,"v":7.13},{"c":36,"t":598,"v":7.10},{"c":36,"t":599.9,"v":7.22},
{"c":37,"t":10.3,"v":7.35},{"c":37,"t":10.8,"v":7.31},{"c":37,"t":12,"v":7.31},{"c":37,"t":20,"v":7.295},{"c":37,"t":28,"v":7.325},{"c":37,"t":36,"v":7.31},{"c":37,"t":44,"v":7.28},{"c":37,"t":52,"v":7.34},{"c":37,"t":60,"v":7.325},{"c":37,"t":65.5,"v":7.31},{"c":37,"t":67,"v":7.085},{"c":37,"t":68.2,"v":6.81},{"c":37,"t":69.3,"v":7.11},{"c":37,"t":71,"v":7.26},{"c":37,"t":76,"v":7.295},{"c":37,"t":82,"v":7.31},{"c":37,"t":85,"v":7.24},{"c":37,"t":86,"v":7.31},{"c":37,"t":87.2,"v":7.063},{"c":37,"t":88.5,"v":6.76},{"c":37,"t":89.8,"v":7.09},{"c":37,"t":91.5,"v":7.244},{"c":37,"t":94,"v":7.294},{"c":37,"t":98,"v":7.325},{"c":37,"t":102,"v":7.295},{"c":37,"t":106.5,"v":7.31},{"c":37,"t":108.3,"v":7.19},{"c":37,"t":110,"v":7.298},{"c":37,"t":114,"v":7.34},{"c":37,"t":122,"v":7.31},{"c":37,"t":130,"v":7.28},{"c":37,"t":138,"v":7.325},{"c":37,"t":146,"v":7.295},{"c":37,"t":154,"v":7.32},{"c":37,"t":162,"v":7.335},{"c":37,"t":170,"v":7.35},{"c":37,"t":178,"v":7.305},{"c":37,"t":186,"v":7.335},{"c":37,"t":194,"v":7.305},{"c":37,"t":202,"v":7.35},{"c":37,"t":210,"v":7.32},{"c":37,"t":218,"v":7.29},{"c":37,"t":226,"v":7.36},{"c":37,"t":234,"v":7.33},{"c":37,"t":242,"v":7.375},{"c":37,"t":250,"v":7.33},{"c":37,"t":258,"v":7.345},{"c":37,"t":266,"v":7.375},{"c":37,"t":274,"v":7.315},{"c":37,"t":282,"v":7.36},{"c":37,"t":290,"v":7.345},{"c":37,"t":298,"v":7.33},{"c":37,"t":306,"v":7.375},{"c":37,"t":314,"v":7.36},{"c":37,"t":322,"v":7.315},{"c":37,"t":330,"v":7.345},{"c":37,"t":338,"v":7.36},{"c":37,"t":346,"v":7.33},{"c":37,"t":354,"v":7.375},{"c":37,"t":362,"v":7.33},{"c":37,"t":370,"v":7.345},{"c":37,"t":378,"v":7.36},{"c":37,"t":386,"v":7.315},{"c":37,"t":394,"v":7.375},{"c":37,"t":402,"v":7.345},{"c":37,"t":410,"v":7.33},{"c":37,"t":418,"v":7.36},{"c":37,"t":426,"v":7.345},{"c":37,"t":434,"v":7.315},{"c":37,"t":442,"v":7.36},{"c":37,"t":450,"v":7.375},{"c":37,"t":458,"v":7.35},{"c":37,"t":466,"v":7.365},{"c":37,"t":474,"v":7.38},{"c":37,"t":482,"v":7.35},{"c":37,"t":490,"v":7.395},{"c":37,"t":498,"v":7.335},{"c":37,"t":506,"v":7.38},{"c":37,"t":514,"v":7.365},{"c":37,"t":522,"v":7.35},{"c":37,"t":530,"v":7.395},{"c":37,"t":538,"v":7.365},{"c":37,"t":546,"v":7.335},{"c":37,"t":554,"v":7.38},{"c":37,"t":562,"v":7.38},{"c":37,"t":570,"v":7.35},{"c":37,"t":578,"v":7.365},{"c":37,"t":586,"v":7.395},{"c":37,"t":594,"v":7.35},{"c":37,"t":598,"v":7.37},{"c":37,"t":599.9,"v":7.51},
{"c":38,"t":10.3,"v":7.60},{"c":38,"t":10.8,"v":7.585},{"c":38,"t":12,"v":7.595},{"c":38,"t":20,"v":7.585},{"c":38,"t":28,"v":7.575},{"c":38,"t":36,"v":7.605},{"c":38,"t":44,"v":7.595},{"c":38,"t":52,"v":7.565},{"c":38,"t":60,"v":7.585},{"c":38,"t":65.5,"v":7.585},{"c":38,"t":67,"v":7.315},{"c":38,"t":68.2,"v":6.985},{"c":38,"t":69.3,"v":7.345},{"c":38,"t":71,"v":7.525},{"c":38,"t":76,"v":7.595},{"c":38,"t":82,"v":7.575},{"c":38,"t":85,"v":7.515},{"c":38,"t":86,"v":7.585},{"c":38,"t":87.2,"v":7.36},{"c":38,"t":88.5,"v":7.085},{"c":38,"t":89.8,"v":7.385},{"c":38,"t":91.5,"v":7.525},{"c":38,"t":94,"v":7.57},{"c":38,"t":98,"v":7.605},{"c":38,"t":102,"v":7.575},{"c":38,"t":106.5,"v":7.585},{"c":38,"t":108.3,"v":7.485},{"c":38,"t":110,"v":7.575},{"c":38,"t":114,"v":7.585},{"c":38,"t":122,"v":7.595},{"c":38,"t":130,"v":7.565},{"c":38,"t":138,"v":7.605},{"c":38,"t":146,"v":7.585},{"c":38,"t":154,"v":7.58},{"c":38,"t":162,"v":7.60},{"c":38,"t":170,"v":7.59},{"c":38,"t":178,"v":7.57},{"c":38,"t":186,"v":7.60},{"c":38,"t":194,"v":7.61},{"c":38,"t":202,"v":7.58},{"c":38,"t":210,"v":7.59},{"c":38,"t":218,"v":7.60},{"c":38,"t":226,"v":7.58},{"c":38,"t":234,"v":7.61},{"c":38,"t":242,"v":7.57},{"c":38,"t":250,"v":7.60},{"c":38,"t":258,"v":7.59},{"c":38,"t":266,"v":7.58},{"c":38,"t":274,"v":7.61},{"c":38,"t":282,"v":7.59},{"c":38,"t":290,"v":7.57},{"c":38,"t":298,"v":7.60},{"c":38,"t":306,"v":7.60},{"c":38,"t":314,"v":7.58},{"c":38,"t":322,"v":7.59},{"c":38,"t":330,"v":7.61},{"c":38,"t":338,"v":7.58},{"c":38,"t":346,"v":7.59},{"c":38,"t":354,"v":7.60},{"c":38,"t":362,"v":7.57},{"c":38,"t":370,"v":7.60},{"c":38,"t":378,"v":7.61},{"c":38,"t":386,"v":7.58},{"c":38,"t":394,"v":7.59},{"c":38,"t":402,"v":7.58},{"c":38,"t":410,"v":7.60},{"c":38,"t":418,"v":7.61},{"c":38,"t":426,"v":7.57},{"c":38,"t":434,"v":7.59},{"c":38,"t":442,"v":7.60},{"c":38,"t":450,"v":7.58},{"c":38,"t":458,"v":7.60},{"c":38,"t":466,"v":7.62},{"c":38,"t":474,"v":7.59},{"c":38,"t":482,"v":7.61},{"c":38,"t":490,"v":7.58},{"c":38,"t":498,"v":7.60},{"c":38,"t":506,"v":7.61},{"c":38,"t":514,"v":7.59},{"c":38,"t":522,"v":7.62},{"c":38,"t":530,"v":7.60},{"c":38,"t":538,"v":7.59},{"c":38,"t":546,"v":7.61},{"c":38,"t":554,"v":7.58},{"c":38,"t":562,"v":7.62},{"c":38,"t":570,"v":7.60},{"c":38,"t":578,"v":7.59},{"c":38,"t":586,"v":7.61},{"c":38,"t":594,"v":7.60},{"c":38,"t":598,"v":7.60},{"c":38,"t":599.9,"v":7.62},
{"c":39,"t":10.3,"v":7.79},{"c":39,"t":12,"v":7.79},{"c":39,"t":18,"v":7.76},{"c":39,"t":24,"v":7.805},{"c":39,"t":30,"v":7.775},{"c":39,"t":36,"v":7.82},{"c":39,"t":42,"v":7.775},{"c":39,"t":48,"v":7.79},{"c":39,"t":54,"v":7.82},{"c":39,"t":60,"v":7.76},{"c":39,"t":65.5,"v":7.79},{"c":39,"t":67,"v":7.52},{"c":39,"t":68.2,"v":7.19},{"c":39,"t":69.3,"v":7.55},{"c":39,"t":71,"v":7.73},{"c":39,"t":78,"v":7.805},{"c":39,"t":84,"v":7.79},{"c":39,"t":87.2,"v":7.588},{"c":39,"t":88.5,"v":7.34},{"c":39,"t":89.8,"v":7.61},{"c":39,"t":91.5,"v":7.736},{"c":39,"t":94,"v":7.776},{"c":39,"t":96,"v":7.775},{"c":39,"t":102,"v":7.82},{"c":39,"t":106.5,"v":7.79},{"c":39,"t":108.3,"v":7.72},{"c":39,"t":110,"v":7.783},
{"c":39,"t":114,"v":7.805},{"c":39,"t":120,"v":7.76},{"c":39,"t":126,"v":7.79},{"c":39,"t":132,"v":7.805},{"c":39,"t":138,"v":7.775},{"c":39,"t":144,"v":7.82},{"c":39,"t":150,"v":7.775},{"c":39,"t":156,"v":7.79},{"c":39,"t":162,"v":7.805},{"c":39,"t":168,"v":7.76},{"c":39,"t":174,"v":7.82},{"c":39,"t":180,"v":7.79},{"c":39,"t":186,"v":7.775},{"c":39,"t":192,"v":7.805},{"c":39,"t":198,"v":7.79},{"c":39,"t":204,"v":7.76},{"c":39,"t":210,"v":7.805},{"c":39,"t":216,"v":7.82},{"c":39,"t":222,"v":7.775},{"c":39,"t":228,"v":7.79},{"c":39,"t":234,"v":7.805},{"c":39,"t":240,"v":7.775},{"c":39,"t":246,"v":7.82},{"c":39,"t":252,"v":7.76},{"c":39,"t":258,"v":7.805},{"c":39,"t":264,"v":7.79},{"c":39,"t":270,"v":7.775},{"c":39,"t":276,"v":7.82},{"c":39,"t":282,"v":7.79},{"c":39,"t":288,"v":7.76},{"c":39,"t":294,"v":7.805},{"c":39,"t":300,"v":7.805},{"c":39,"t":306,"v":7.775},{"c":39,"t":312,"v":7.79},{"c":39,"t":318,"v":7.82},{"c":39,"t":324,"v":7.775},{"c":39,"t":330,"v":7.79},{"c":39,"t":336,"v":7.805},{"c":39,"t":342,"v":7.76},{"c":39,"t":348,"v":7.805},{"c":39,"t":354,"v":7.82},{"c":39,"t":360,"v":7.775},{"c":39,"t":366,"v":7.79},{"c":39,"t":372,"v":7.775},{"c":39,"t":378,"v":7.805},{"c":39,"t":384,"v":7.82},{"c":39,"t":390,"v":7.76},{"c":39,"t":396,"v":7.79},{"c":39,"t":402,"v":7.805},{"c":39,"t":408,"v":7.775},{"c":39,"t":414,"v":7.79},{"c":39,"t":420,"v":7.82},{"c":39,"t":426,"v":7.775},{"c":39,"t":432,"v":7.805},{"c":39,"t":438,"v":7.76},{"c":39,"t":444,"v":7.79},{"c":39,"t":450,"v":7.805},{"c":39,"t":456,"v":7.775},{"c":39,"t":462,"v":7.82},{"c":39,"t":468,"v":7.79},{"c":39,"t":474,"v":7.775},{"c":39,"t":480,"v":7.805},{"c":39,"t":486,"v":7.76},{"c":39,"t":492,"v":7.82},{"c":39,"t":498,"v":7.79},{"c":39,"t":504,"v":7.775},{"c":39,"t":510,"v":7.805},{"c":39,"t":516,"v":7.79},{"c":39,"t":522,"v":7.76},{"c":39,"t":528,"v":7.82},{"c":39,"t":534,"v":7.805},{"c":39,"t":540,"v":7.775},{"c":39,"t":546,"v":7.79},{"c":39,"t":552,"v":7.805},{"c":39,"t":558,"v":7.775},{"c":39,"t":564,"v":7.82},{"c":39,"t":570,"v":7.79},{"c":39,"t":576,"v":7.76},{"c":39,"t":582,"v":7.805},{"c":39,"t":588,"v":7.775},{"c":39,"t":594,"v":7.79},{"c":39,"t":598,"v":7.79},{"c":39,"t":599.9,"v":7.80},
{"c":40,"t":10.3,"v":8.01},{"c":40,"t":12,"v":7.995},{"c":40,"t":18,"v":8.04},{"c":40,"t":24,"v":7.995},{"c":40,"t":30,"v":8.01},{"c":40,"t":36,"v":8.025},{"c":40,"t":42,"v":7.98},{"c":40,"t":48,"v":8.04},{"c":40,"t":54,"v":8.01},{"c":40,"t":60,"v":7.995},{"c":40,"t":65.5,"v":8.01},{"c":40,"t":67,"v":7.762},{"c":40,"t":68.2,"v":7.46},{"c":40,"t":69.3,"v":7.79},{"c":40,"t":71,"v":7.955},{"c":40,"t":78,"v":8.025},{"c":40,"t":84,"v":8.01},{"c":40,"t":87.2,"v":7.866},{"c":40,"t":88.5,"v":7.69},{"c":40,"t":89.8,"v":7.882},{"c":40,"t":91.5,"v":7.972},{"c":40,"t":94,"v":8.0},{"c":40,"t":96,"v":7.98},{"c":40,"t":102,"v":8.025},
{"c":40,"t":114,"v":8.04},{"c":40,"t":120,"v":7.995},{"c":40,"t":126,"v":8.01},{"c":40,"t":132,"v":8.025},{"c":40,"t":138,"v":7.995},{"c":40,"t":144,"v":8.04},{"c":40,"t":150,"v":7.98},{"c":40,"t":156,"v":8.025},{"c":40,"t":162,"v":8.01},{"c":40,"t":168,"v":7.995},{"c":40,"t":174,"v":8.04},{"c":40,"t":180,"v":8.01},{"c":40,"t":186,"v":7.98},{"c":40,"t":192,"v":8.025},{"c":40,"t":198,"v":8.025},{"c":40,"t":204,"v":7.995},{"c":40,"t":210,"v":8.01},{"c":40,"t":216,"v":8.04},{"c":40,"t":222,"v":7.995},{"c":40,"t":228,"v":8.01},{"c":40,"t":234,"v":8.025},{"c":40,"t":240,"v":7.98},{"c":40,"t":246,"v":8.025},{"c":40,"t":252,"v":8.04},{"c":40,"t":258,"v":7.995},{"c":40,"t":264,"v":8.01},{"c":40,"t":270,"v":7.995},{"c":40,"t":276,"v":8.025},{"c":40,"t":282,"v":8.04},{"c":40,"t":288,"v":7.98},{"c":40,"t":294,"v":8.01},{"c":40,"t":300,"v":8.025},{"c":40,"t":306,"v":7.995},{"c":40,"t":312,"v":8.01},{"c":40,"t":318,"v":8.04},{"c":40,"t":324,"v":7.995},{"c":40,"t":330,"v":8.025},{"c":40,"t":336,"v":7.98},{"c":40,"t":342,"v":8.01},{"c":40,"t":348,"v":8.025},{"c":40,"t":354,"v":7.995},{"c":40,"t":360,"v":8.04},{"c":40,"t":366,"v":8.01},{"c":40,"t":372,"v":7.995},{"c":40,"t":378,"v":8.025},{"c":40,"t":384,"v":7.98},{"c":40,"t":390,"v":8.04},{"c":40,"t":396,"v":8.01},{"c":40,"t":402,"v":7.995},{"c":40,"t":408,"v":8.025},{"c":40,"t":414,"v":8.01},{"c":40,"t":420,"v":7.98},{"c":40,"t":426,"v":8.04},{"c":40,"t":432,"v":8.025},{"c":40,"t":438,"v":7.995},{"c":40,"t":444,"v":8.01},{"c":40,"t":450,"v":8.025},{"c":40,"t":456,"v":7.995},{"c":40,"t":462,"v":8.04},{"c":40,"t":468,"v":8.01},{"c":40,"t":474,"v":7.98},{"c":40,"t":480,"v":8.025},{"c":40,"t":486,"v":7.995},{"c":40,"t":492,"v":8.01},{"c":40,"t":498,"v":8.025},{"c":40,"t":504,"v":8.04},{"c":40,"t":510,"v":7.995},{"c":40,"t":516,"v":8.025},{"c":40,"t":522,"v":7.995},{"c":40,"t":528,"v":8.04},{"c":40,"t":534,"v":8.01},{"c":40,"t":540,"v":7.98},{"c":40,"t":546,"v":8.025},{"c":40,"t":552,"v":7.995},{"c":40,"t":558,"v":8.04},{"c":40,"t":564,"v":7.995},{"c":40,"t":570,"v":8.01},{"c":40,"t":576,"v":8.04},{"c":40,"t":582,"v":7.98},{"c":40,"t":588,"v":8.025},{"c":40,"t":594,"v":8.01},{"c":40,"t":598,"v":8.01},{"c":40,"t":599.9,"v":8.02},
{"c":41,"t":10.3,"v":8.19},{"c":41,"t":12,"v":8.175},{"c":41,"t":18,"v":8.22},{"c":41,"t":24,"v":8.16},{"c":41,"t":30,"v":8.205},{"c":41,"t":36,"v":8.19},{"c":41,"t":42,"v":8.175},{"c":41,"t":48,"v":8.22},{"c":41,"t":54,"v":8.19},{"c":41,"t":60,"v":8.16},{"c":41,"t":65.5,"v":8.19},{"c":41,"t":67,"v":7.965},{"c":41,"t":68.2,"v":7.69},{"c":41,"t":69.3,"v":7.99},{"c":41,"t":71,"v":8.14},{"c":41,"t":78,"v":8.205},{"c":41,"t":84,"v":8.205},{"c":41,"t":87.2,"v":8.082},{"c":41,"t":88.5,"v":7.95},{"c":41,"t":89.8,"v":8.094},{"c":41,"t":91.5,"v":8.161},{"c":41,"t":94,"v":8.183},{"c":41,"t":96,"v":8.175},{"c":41,"t":102,"v":8.19},
{"c":41,"t":114,"v":8.22},{"c":41,"t":120,"v":8.175},{"c":41,"t":126,"v":8.19},{"c":41,"t":132,"v":8.205},{"c":41,"t":138,"v":8.16},{"c":41,"t":144,"v":8.205},{"c":41,"t":150,"v":8.22},{"c":41,"t":156,"v":8.175},{"c":41,"t":162,"v":8.19},{"c":41,"t":168,"v":8.175},{"c":41,"t":174,"v":8.205},{"c":41,"t":180,"v":8.22},{"c":41,"t":186,"v":8.16},{"c":41,"t":192,"v":8.19},{"c":41,"t":198,"v":8.205},{"c":41,"t":204,"v":8.175},{"c":41,"t":210,"v":8.19},{"c":41,"t":216,"v":8.22},{"c":41,"t":222,"v":8.175},{"c":41,"t":228,"v":8.205},{"c":41,"t":234,"v":8.16},{"c":41,"t":240,"v":8.19},{"c":41,"t":246,"v":8.205},{"c":41,"t":252,"v":8.175},{"c":41,"t":258,"v":8.22},{"c":41,"t":264,"v":8.19},{"c":41,"t":270,"v":8.175},{"c":41,"t":276,"v":8.205},{"c":41,"t":282,"v":8.16},{"c":41,"t":288,"v":8.22},{"c":41,"t":294,"v":8.19},{"c":41,"t":300,"v":8.175},{"c":41,"t":306,"v":8.205},{"c":41,"t":312,"v":8.19},{"c":41,"t":318,"v":8.16},{"c":41,"t":324,"v":8.22},{"c":41,"t":330,"v":8.205},{"c":41,"t":336,"v":8.175},{"c":41,"t":342,"v":8.19},{"c":41,"t":348,"v":8.205},{"c":41,"t":354,"v":8.175},{"c":41,"t":360,"v":8.22},{"c":41,"t":366,"v":8.19},{"c":41,"t":372,"v":8.16},{"c":41,"t":378,"v":8.205},{"c":41,"t":384,"v":8.175},{"c":41,"t":390,"v":8.19},{"c":41,"t":396,"v":8.205},{"c":41,"t":402,"v":8.22},{"c":41,"t":408,"v":8.175},{"c":41,"t":414,"v":8.205},{"c":41,"t":420,"v":8.175},{"c":41,"t":426,"v":8.22},{"c":41,"t":432,"v":8.19},{"c":41,"t":438,"v":8.16},{"c":41,"t":444,"v":8.205},{"c":41,"t":450,"v":8.175},{"c":41,"t":456,"v":8.22},{"c":41,"t":462,"v":8.175},{"c":41,"t":468,"v":8.19},{"c":41,"t":474,"v":8.22},{"c":41,"t":480,"v":8.16},{"c":41,"t":486,"v":8.205},{"c":41,"t":492,"v":8.19},{"c":41,"t":498,"v":8.175},{"c":41,"t":504,"v":8.22},{"c":41,"t":510,"v":8.205},{"c":41,"t":516,"v":8.16},{"c":41,"t":522,"v":8.19},{"c":41,"t":528,"v":8.205},{"c":41,"t":534,"v":8.175},{"c":41,"t":540,"v":8.22},{"c":41,"t":546,"v":8.175},{"c":41,"t":552,"v":8.19},{"c":41,"t":558,"v":8.205},{"c":41,"t":564,"v":8.16},{"c":41,"t":570,"v":8.22},{"c":41,"t":576,"v":8.19},{"c":41,"t":582,"v":8.175},{"c":41,"t":588,"v":8.205},{"c":41,"t":594,"v":8.19},{"c":41,"t":598,"v":8.19},{"c":41,"t":599.9,"v":8.19},
{"c":42,"t":10.3,"v":8.39},{"c":42,"t":12,"v":8.36},{"c":42,"t":18,"v":8.405},{"c":42,"t":24,"v":8.42},{"c":42,"t":30,"v":8.375},{"c":42,"t":36,"v":8.39},{"c":42,"t":42,"v":8.375},{"c":42,"t":48,"v":8.405},{"c":42,"t":54,"v":8.42},{"c":42,"t":60,"v":8.36},{"c":42,"t":65.5,"v":8.39},{"c":42,"t":67,"v":8.201},{"c":42,"t":68.2,"v":7.97},{"c":42,"t":69.3,"v":8.222},{"c":42,"t":71,"v":8.348},{"c":42,"t":78,"v":8.39},{"c":42,"t":84,"v":8.405},{"c":42,"t":87.2,"v":8.314},{"c":42,"t":88.5,"v":8.22},{"c":42,"t":89.8,"v":8.322},{"c":42,"t":91.5,"v":8.37},{"c":42,"t":94,"v":8.385},{"c":42,"t":96,"v":8.375},{"c":42,"t":102,"v":8.39},
{"c":42,"t":114,"v":8.42},{"c":42,"t":120,"v":8.375},{"c":42,"t":126,"v":8.405},{"c":42,"t":132,"v":8.36},{"c":42,"t":138,"v":8.39},{"c":42,"t":144,"v":8.405},{"c":42,"t":150,"v":8.375},{"c":42,"t":156,"v":8.42},{"c":42,"t":162,"v":8.39},{"c":42,"t":168,"v":8.375},{"c":42,"t":174,"v":8.405},{"c":42,"t":180,"v":8.36},{"c":42,"t":186,"v":8.42},{"c":42,"t":192,"v":8.39},{"c":42,"t":198,"v":8.375},{"c":42,"t":204,"v":8.405},{"c":42,"t":210,"v":8.39},{"c":42,"t":216,"v":8.36},{"c":42,"t":222,"v":8.42},{"c":42,"t":228,"v":8.405},{"c":42,"t":234,"v":8.375},{"c":42,"t":240,"v":8.39},{"c":42,"t":246,"v":8.405},{"c":42,"t":252,"v":8.375},{"c":42,"t":258,"v":8.42},{"c":42,"t":264,"v":8.39},{"c":42,"t":270,"v":8.36},{"c":42,"t":276,"v":8.405},{"c":42,"t":282,"v":8.375},{"c":42,"t":288,"v":8.39},{"c":42,"t":294,"v":8.405},{"c":42,"t":300,"v":8.42},{"c":42,"t":306,"v":8.375},{"c":42,"t":312,"v":8.405},{"c":42,"t":318,"v":8.375},{"c":42,"t":324,"v":8.42},{"c":42,"t":330,"v":8.39},{"c":42,"t":336,"v":8.36},{"c":42,"t":342,"v":8.405},{"c":42,"t":348,"v":8.375},{"c":42,"t":354,"v":8.42},{"c":42,"t":360,"v":8.375},{"c":42,"t":366,"v":8.39},{"c":42,"t":372,"v":8.42},{"c":42,"t":378,"v":8.36},{"c":42,"t":384,"v":8.405},{"c":42,"t":390,"v":8.39},{"c":42,"t":396,"v":8.375},{"c":42,"t":402,"v":8.42},{"c":42,"t":408,"v":8.405},{"c":42,"t":414,"v":8.36},{"c":42,"t":420,"v":8.39},{"c":42,"t":426,"v":8.405},{"c":42,"t":432,"v":8.375},{"c":42,"t":438,"v":8.42},{"c":42,"t":444,"v":8.375},{"c":42,"t":450,"v":8.39},{"c":42,"t":456,"v":8.405},{"c":42,"t":462,"v":8.36},{"c":42,"t":468,"v":8.42},{"c":42,"t":474,"v":8.39},{"c":42,"t":480,"v":8.375},{"c":42,"t":486,"v":8.405},{"c":42,"t":492,"v":8.39},{"c":42,"t":498,"v":8.36},{"c":42,"t":504,"v":8.405},{"c":42,"t":510,"v":8.42},{"c":42,"t":516,"v":8.375},{"c":42,"t":522,"v":8.39},{"c":42,"t":528,"v":8.405},{"c":42,"t":534,"v":8.375},{"c":42,"t":540,"v":8.42},{"c":42,"t":546,"v":8.36},{"c":42,"t":552,"v":8.405},{"c":42,"t":558,"v":8.39},{"c":42,"t":564,"v":8.375},{"c":42,"t":570,"v":8.42},{"c":42,"t":576,"v":8.39},{"c":42,"t":582,"v":8.36},{"c":42,"t":588,"v":8.405},{"c":42,"t":594,"v":8.405},{"c":42,"t":598,"v":8.40},{"c":42,"t":599.9,"v":8.42},
{"c":43,"t":10.3,"v":8.61},{"c":43,"t":12,"v":8.61},{"c":43,"t":18,"v":8.625},{"c":43,"t":24,"v":8.595},{"c":43,"t":30,"v":8.64},{"c":43,"t":36,"v":8.61},{"c":43,"t":42,"v":8.595},{"c":43,"t":48,"v":8.625},{"c":43,"t":54,"v":8.58},{"c":43,"t":60,"v":8.64},{"c":43,"t":65.5,"v":8.61},{"c":43,"t":67,"v":8.475},{"c":43,"t":68.2,"v":8.31},{"c":43,"t":69.3,"v":8.49},{"c":43,"t":71,"v":8.58},{"c":43,"t":78,"v":8.61},{"c":43,"t":84,"v":8.595},{"c":43,"t":87.2,"v":8.565},{"c":43,"t":88.5,"v":8.51},{"c":43,"t":89.8,"v":8.57},{"c":43,"t":91.5,"v":8.598},{"c":43,"t":94,"v":8.607},{"c":43,"t":96,"v":8.625},{"c":43,"t":102,"v":8.61},
{"c":43,"t":114,"v":8.58},{"c":43,"t":120,"v":8.64},{"c":43,"t":126,"v":8.625},{"c":43,"t":132,"v":8.595},{"c":43,"t":138,"v":8.61},{"c":43,"t":144,"v":8.625},{"c":43,"t":150,"v":8.595},{"c":43,"t":156,"v":8.64},{"c":43,"t":162,"v":8.61},{"c":43,"t":168,"v":8.58},{"c":43,"t":174,"v":8.625},{"c":43,"t":180,"v":8.595},{"c":43,"t":186,"v":8.61},{"c":43,"t":192,"v":8.625},{"c":43,"t":198,"v":8.64},{"c":43,"t":204,"v":8.595},{"c":43,"t":210,"v":8.625},{"c":43,"t":216,"v":8.595},{"c":43,"t":222,"v":8.64},{"c":43,"t":228,"v":8.61},{"c":43,"t":234,"v":8.58},{"c":43,"t":240,"v":8.625},{"c":43,"t":246,"v":8.595},{"c":43,"t":252,"v":8.64},{"c":43,"t":258,"v":8.595},{"c":43,"t":264,"v":8.61},{"c":43,"t":270,"v":8.64},{"c":43,"t":276,"v":8.58},{"c":43,"t":282,"v":8.625},{"c":43,"t":288,"v":8.61},{"c":43,"t":294,"v":8.595},{"c":43,"t":300,"v":8.64},{"c":43,"t":306,"v":8.625},{"c":43,"t":312,"v":8.58},{"c":43,"t":318,"v":8.61},{"c":43,"t":324,"v":8.625},{"c":43,"t":330,"v":8.595},{"c":43,"t":336,"v":8.64},{"c":43,"t":342,"v":8.595},{"c":43,"t":348,"v":8.61},{"c":43,"t":354,"v":8.625},{"c":43,"t":360,"v":8.58},{"c":43,"t":366,"v":8.64},{"c":43,"t":372,"v":8.61},{"c":43,"t":378,"v":8.595},{"c":43,"t":384,"v":8.625},{"c":43,"t":390,"v":8.61},{"c":43,"t":396,"v":8.58},{"c":43,"t":402,"v":8.625},{"c":43,"t":408,"v":8.64},{"c":43,"t":414,"v":8.595},{"c":43,"t":420,"v":8.61},{"c":43,"t":426,"v":8.625},{"c":43,"t":432,"v":8.595},{"c":43,"t":438,"v":8.64},{"c":43,"t":444,"v":8.58},{"c":43,"t":450,"v":8.625},{"c":43,"t":456,"v":8.61},{"c":43,"t":462,"v":8.595},{"c":43,"t":468,"v":8.64},{"c":43,"t":474,"v":8.61},{"c":43,"t":480,"v":8.58},{"c":43,"t":486,"v":8.625},{"c":43,"t":492,"v":8.625},{"c":43,"t":498,"v":8.595},{"c":43,"t":504,"v":8.61},{"c":43,"t":510,"v":8.64},{"c":43,"t":516,"v":8.595},{"c":43,"t":522,"v":8.61},{"c":43,"t":528,"v":8.625},{"c":43,"t":534,"v":8.58},{"c":43,"t":540,"v":8.625},{"c":43,"t":546,"v":8.64},{"c":43,"t":552,"v":8.595},{"c":43,"t":558,"v":8.61},{"c":43,"t":564,"v":8.595},{"c":43,"t":570,"v":8.625},{"c":43,"t":576,"v":8.64},{"c":43,"t":582,"v":8.58},{"c":43,"t":588,"v":8.61},{"c":43,"t":594,"v":8.56},{"c":43,"t":598,"v":8.57},{"c":43,"t":599.9,"v":8.63},
{"c":44,"t":10.3,"v":8.79},{"c":44,"t":12,"v":8.79},{"c":44,"t":18,"v":8.805},{"c":44,"t":24,"v":8.775},{"c":44,"t":30,"v":8.82},{"c":44,"t":36,"v":8.79},{"c":44,"t":42,"v":8.76},{"c":44,"t":48,"v":8.805},{"c":44,"t":54,"v":8.775},{"c":44,"t":60,"v":8.79},{"c":44,"t":65.5,"v":8.79},{"c":44,"t":67,"v":8.732},{"c":44,"t":68.2,"v":8.66},{"c":44,"t":69.3,"v":8.738},{"c":44,"t":71,"v":8.777},{"c":44,"t":78,"v":8.805},{"c":44,"t":84,"v":8.82},{"c":44,"t":87.2,"v":8.768},{"c":44,"t":88.5,"v":8.74},{"c":44,"t":89.8,"v":8.77},{"c":44,"t":91.5,"v":8.784},{"c":44,"t":94,"v":8.788},{"c":44,"t":96,"v":8.775},{"c":44,"t":102,"v":8.805},
{"c":44,"t":114,"v":8.775},{"c":44,"t":120,"v":8.82},{"c":44,"t":126,"v":8.79},{"c":44,"t":132,"v":8.76},{"c":44,"t":138,"v":8.805},{"c":44,"t":144,"v":8.775},{"c":44,"t":150,"v":8.82},{"c":44,"t":156,"v":8.775},{"c":44,"t":162,"v":8.79},{"c":44,"t":168,"v":8.82},{"c":44,"t":174,"v":8.76},{"c":44,"t":180,"v":8.805},{"c":44,"t":186,"v":8.79},{"c":44,"t":192,"v":8.775},{"c":44,"t":198,"v":8.82},{"c":44,"t":204,"v":8.805},{"c":44,"t":210,"v":8.76},{"c":44,"t":216,"v":8.79},{"c":44,"t":222,"v":8.805},{"c":44,"t":228,"v":8.775},{"c":44,"t":234,"v":8.82},{"c":44,"t":240,"v":8.775},{"c":44,"t":246,"v":8.79},{"c":44,"t":252,"v":8.805},{"c":44,"t":258,"v":8.76},{"c":44,"t":264,"v":8.82},{"c":44,"t":270,"v":8.79},{"c":44,"t":276,"v":8.775},{"c":44,"t":282,"v":8.805},{"c":44,"t":288,"v":8.79},{"c":44,"t":294,"v":8.76},{"c":44,"t":300,"v":8.805},{"c":44,"t":306,"v":8.82},{"c":44,"t":312,"v":8.775},{"c":44,"t":318,"v":8.79},{"c":44,"t":324,"v":8.805},{"c":44,"t":330,"v":8.775},{"c":44,"t":336,"v":8.82},{"c":44,"t":342,"v":8.76},{"c":44,"t":348,"v":8.805},{"c":44,"t":354,"v":8.79},{"c":44,"t":360,"v":8.775},{"c":44,"t":366,"v":8.82},{"c":44,"t":372,"v":8.79},{"c":44,"t":378,"v":8.76},{"c":44,"t":384,"v":8.805},{"c":44,"t":390,"v":8.805},{"c":44,"t":396,"v":8.775},{"c":44,"t":402,"v":8.79},{"c":44,"t":408,"v":8.82},{"c":44,"t":414,"v":8.775},{"c":44,"t":420,"v":8.79},{"c":44,"t":426,"v":8.805},{"c":44,"t":432,"v":8.76},{"c":44,"t":438,"v":8.805},{"c":44,"t":444,"v":8.82},{"c":44,"t":450,"v":8.775},{"c":44,"t":456,"v":8.79},{"c":44,"t":462,"v":8.775},{"c":44,"t":468,"v":8.805},{"c":44,"t":474,"v":8.82},{"c":44,"t":480,"v":8.76},{"c":44,"t":486,"v":8.79},{"c":44,"t":492,"v":8.805},{"c":44,"t":498,"v":8.775},{"c":44,"t":504,"v":8.79},{"c":44,"t":510,"v":8.82},{"c":44,"t":516,"v":8.775},{"c":44,"t":522,"v":8.805},{"c":44,"t":528,"v":8.76},{"c":44,"t":534,"v":8.79},{"c":44,"t":540,"v":8.805},{"c":44,"t":546,"v":8.775},{"c":44,"t":552,"v":8.82},{"c":44,"t":558,"v":8.79},{"c":44,"t":564,"v":8.775},{"c":44,"t":570,"v":8.805},{"c":44,"t":576,"v":8.76},{"c":44,"t":582,"v":8.82},{"c":44,"t":588,"v":8.79},{"c":44,"t":594,"v":8.775},{"c":44,"t":598,"v":8.76},{"c":44,"t":599.9,"v":8.73},
{"c":45,"t":10.3,"v":9.0},{"c":45,"t":12,"v":9.02},{"c":45,"t":14,"v":9.0},{"c":45,"t":16,"v":9.04},{"c":45,"t":18,"v":9.01},{"c":45,"t":20,"v":9.03},{"c":45,"t":22,"v":8.99},{"c":45,"t":24,"v":9.02},{"c":45,"t":26,"v":9.04},{"c":45,"t":28,"v":9.0},{"c":45,"t":30,"v":9.03},{"c":45,"t":32,"v":9.01},{"c":45,"t":34,"v":9.04},{"c":45,"t":36,"v":8.98},{"c":45,"t":38,"v":9.02},{"c":45,"t":40,"v":9.03},{"c":45,"t":42,"v":9.0},{"c":45,"t":44,"v":9.03},{"c":45,"t":46,"v":9.01},{"c":45,"t":48,"v":8.98},{"c":45,"t":50,"v":8.96},{"c":45,"t":52,"v":8.99},{"c":45,"t":54,"v":9.0},{"c":45,"t":56,"v":8.97},{"c":45,"t":58,"v":9.01},{"c":45,"t":60,"v":9.0},{"c":45,"t":62,"v":9.02},{"c":45,"t":64,"v":9.0},{"c":45,"t":66,"v":8.97},{"c":45,"t":67,"v":8.9},{"c":45,"t":68.2,"v":8.81},{"c":45,"t":69.5,"v":8.93},{"c":45,"t":71,"v":9.06},{"c":45,"t":72.5,"v":9.1},{"c":45,"t":74,"v":8.96},{"c":45,"t":75.5,"v":9.02},{"c":45,"t":77,"v":9.11},{"c":45,"t":78.5,"v":8.94},{"c":45,"t":80,"v":9.05},{"c":45,"t":81.5,"v":8.92},{"c":45,"t":83,"v":9.08},{"c":45,"t":84.5,"v":8.96},{"c":45,"t":86,"v":8.86},{"c":45,"t":87.5,"v":9.0},{"c":45,"t":89,"v":8.93},{"c":45,"t":90.5,"v":9.06},{"c":45,"t":92,"v":8.95},{"c":45,"t":93.5,"v":9.02},{"c":45,"t":95,"v":8.9},{"c":45,"t":96.5,"v":9.05},{"c":45,"t":98,"v":8.98},{"c":45,"t":99.5,"v":9.08},{"c":45,"t":101,"v":8.95},{"c":45,"t":102.5,"v":9.19},{"c":45,"t":104,"v":9.0},{"c":45,"t":105.5,"v":8.88},{"c":45,"t":107,"v":9.08},{"c":45,"t":108.5,"v":8.92},{"c":45,"t":110,"v":9.12},{"c":45,"t":111.5,"v":8.9},{"c":45,"t":113,"v":9.04},{"c":45,"t":114.5,"v":8.97},{"c":45,"t":116,"v":9.09},{"c":45,"t":117.5,"v":8.93},{"c":45,"t":119,"v":9.06},{"c":45,"t":120.5,"v":8.96},{"c":45,"t":122,"v":9.1},{"c":45,"t":123.5,"v":9.0},{"c":45,"t":125,"v":9.13},{"c":45,"t":126.5,"v":9.02},{"c":45,"t":128,"v":9.07},{"c":45,"t":129.5,"v":9.0},{"c":45,"t":131,"v":9.05},{"c":45,"t":132.5,"v":8.93},{"c":45,"t":134,"v":9.15},{"c":45,"t":135.5,"v":9.0},{"c":45,"t":137,"v":9.08},{"c":45,"t":138.5,"v":9.02},{"c":45,"t":140,"v":8.95},{"c":45,"t":141.8,"v":8.83},{"c":45,"t":143,"v":8.95},{"c":45,"t":144.5,"v":8.9},{"c":45,"t":146,"v":9.06},{"c":45,"t":147.5,"v":8.97},{"c":45,"t":149,"v":9.1},{"c":45,"t":150.5,"v":9.0},{"c":45,"t":152,"v":9.29},{"c":45,"t":153.5,"v":9.15},{"c":45,"t":155,"v":9.05},{"c":45,"t":156.5,"v":9.35},{"c":45,"t":158,"v":9.49},{"c":45,"t":159,"v":9.2},{"c":45,"t":160,"v":8.79},{"c":45,"t":161.5,"v":9.0},{"c":45,"t":163,"v":9.07},{"c":45,"t":164.5,"v":8.97},{"c":45,"t":166,"v":9.12},{"c":45,"t":167.5,"v":9.02},{"c":45,"t":169,"v":8.92},{"c":45,"t":170.3,"v":9.1},{"c":45,"t":171,"v":10.6},{"c":45,"t":171.8,"v":9.05},{"c":45,"t":173.2,"v":9.36},{"c":45,"t":174.5,"v":8.95},{"c":45,"t":175.5,"v":8.68},{"c":45,"t":176.5,"v":9.1},{"c":45,"t":177.5,"v":10.7},{"c":45,"t":178.3,"v":9.0},
{"c":45,"t":179,"v":8.85},{"c":45,"t":180,"v":7.5},{"c":45,"t":181,"v":9.1},{"c":45,"t":182,"v":9.28},{"c":45,"t":183,"v":8.95},{"c":45,"t":184,"v":9.4},{"c":45,"t":185,"v":9.05},{"c":45,"t":186,"v":8.85},{"c":45,"t":187,"v":9.3},{"c":45,"t":188,"v":9.15},{"c":45,"t":189,"v":8.9},{"c":45,"t":190,"v":9.41},{"c":45,"t":191,"v":9.0},{"c":45,"t":192,"v":9.2},{"c":45,"t":193,"v":8.8},{"c":45,"t":194,"v":9.0},{"c":45,"t":195,"v":8.75},{"c":45,"t":196,"v":9.1},{"c":45,"t":197,"v":8.95},{"c":45,"t":198,"v":9.3},{"c":45,"t":199,"v":10.6},{"c":45,"t":200,"v":9.73},{"c":45,"t":201,"v":8.7},{"c":45,"t":202,"v":10.5},{"c":45,"t":203,"v":6.36},{"c":45,"t":204,"v":10.8},{"c":45,"t":205,"v":8.8},{"c":45,"t":206,"v":10.4},{"c":45,"t":207,"v":8.6},{"c":45,"t":208,"v":9.0},{"c":45,"t":208.2,"v":-3},{"c":45,"t":208.9,"v":-3},{"c":45,"t":209.2,"v":9.2},{"c":45,"t":210,"v":10.9},{"c":45,"t":211,"v":8.5},{"c":45,"t":212,"v":9.9},{"c":45,"t":213,"v":8.9},{"c":45,"t":214,"v":10.6},{"c":45,"t":215,"v":9.1},{"c":45,"t":216,"v":9.6},{"c":45,"t":217,"v":8.8},{"c":45,"t":218,"v":9.8},{"c":45,"t":219,"v":9.0},{"c":45,"t":220,"v":10.7},{"c":45,"t":221,"v":8.9},{"c":45,"t":222,"v":9.5},{"c":45,"t":223,"v":8.7},{"c":45,"t":224,"v":10.5},{"c":45,"t":225,"v":8.6},{"c":45,"t":226,"v":6.72},{"c":45,"t":227,"v":10.8},{"c":45,"t":228,"v":8.4},{"c":45,"t":229,"v":6.8},{"c":45,"t":230,"v":10.6},{"c":45,"t":231,"v":8.3},{"c":45,"t":232,"v":9.0},{"c":45,"t":232.5,"v":-3},{"c":45,"t":233.2,"v":-3},{"c":45,"t":233.5,"v":9.1},{"c":45,"t":234,"v":10.9},{"c":45,"t":235,"v":7.9},{"c":45,"t":236,"v":10.4},{"c":45,"t":237,"v":8.6},{"c":45,"t":238,"v":11},{"c":45,"t":239,"v":7.8},{"c":45,"t":240,"v":10.2},{"c":45,"t":241,"v":8.5},{"c":45,"t":242,"v":9.6},{"c":45,"t":242.7,"v":5.0},{"c":45,"t":243.5,"v":10.7},{"c":45,"t":244.7,"v":5.2},{"c":45,"t":245.5,"v":10.9},{"c":45,"t":246,"v":8.2},{"c":45,"t":247,"v":11},{"c":45,"t":248,"v":7.7},{"c":45,"t":249,"v":10.5},{"c":45,"t":250,"v":7.5},{"c":45,"t":251,"v":10.8},{"c":45,"t":252,"v":8.0},{"c":45,"t":253,"v":11},{"c":45,"t":254,"v":8.6},{"c":45,"t":255,"v":10.3},{"c":45,"t":256,"v":7.9},{"c":45,"t":257,"v":11},{"c":45,"t":258,"v":8.3},{"c":45,"t":259,"v":9.9},{"c":45,"t":260,"v":3.58},{"c":45,"t":261,"v":10.6},{"c":45,"t":262,"v":9.0},{"c":45,"t":262.7,"v":4.29},{"c":45,"t":263.5,"v":10.8},{"c":45,"t":264,"v":8.5},{"c":45,"t":265,"v":9.7},{"c":45,"t":266,"v":8.8},{"c":45,"t":267,"v":9.67},{"c":45,"t":268,"v":9.0},{"c":45,"t":269,"v":10.4},{"c":45,"t":270,"v":9.0},{"c":45,"t":270.2,"v":-3},{"c":45,"t":270.9,"v":-3},{"c":45,"t":271.2,"v":9.0},{"c":45,"t":272,"v":10.8},{"c":45,"t":273,"v":8.4},{"c":45,"t":274,"v":10.2},{"c":45,"t":275,"v":3.17},{"c":45,"t":275.7,"v":9.5},{"c":45,"t":276.4,"v":2.23},{"c":45,"t":277.2,"v":10.5},{"c":45,"t":278,"v":8.7},{"c":45,"t":279,"v":10.9},{"c":45,"t":280,"v":8.2},{"c":45,"t":281,"v":10.1},{"c":45,"t":282,"v":8.8},{"c":45,"t":283,"v":9.6},{"c":45,"t":284,"v":8.5},{"c":45,"t":284.8,"v":6.06},{"c":45,"t":285.6,"v":10.6},{"c":45,"t":286.3,"v":8.9},{"c":45,"t":287,"v":10.8},{"c":45,"t":288,"v":8.3},{"c":45,"t":289,"v":10.4},{"c":45,"t":290,"v":8.9},{"c":45,"t":291,"v":9.5},{"c":45,"t":292,"v":8.8},{"c":45,"t":293,"v":9.2},{"c":45,"t":294,"v":10.5},{"c":45,"t":295,"v":8.7},{"c":45,"t":296,"v":9.4},{"c":45,"t":297,"v":8.9},{"c":45,"t":298,"v":10.6},{"c":45,"t":299,"v":8.8},{"c":45,"t":300,"v":9.3},{"c":45,"t":301,"v":8.6},{"c":45,"t":302,"v":7.42},{"c":45,"t":303,"v":10.3},{"c":45,"t":304,"v":8.9},{"c":45,"t":305,"v":9.6},{"c":45,"t":306,"v":8.7},{"c":45,"t":307,"v":10.2},{"c":45,"t":307.7,"v":2.14},{"c":45,"t":308.5,"v":1.26},{"c":45,"t":309.3,"v":9.8},{"c":45,"t":310,"v":8.8},{"c":45,"t":311,"v":10.6},{"c":45,"t":312,"v":8.4},{"c":45,"t":313,"v":10.9},{"c":45,"t":314,"v":8.1},{"c":45,"t":315,"v":11},{"c":45,"t":316,"v":8.5},{"c":45,"t":317,"v":10.7},{"c":45,"t":318,"v":7.9},{"c":45,"t":319,"v":10.4},{"c":45,"t":320,"v":8.6},{"c":45,"t":321,"v":11},{"c":45,"t":322,"v":8.2},{"c":45,"t":323,"v":10.8},{"c":45,"t":324,"v":8.7},{"c":45,"t":325,"v":9.9},{"c":45,"t":326,"v":8.3},{"c":45,"t":327,"v":10.5},{"c":45,"t":328,"v":8.8},{"c":45,"t":329,"v":10.9},{"c":45,"t":330,"v":8.5},{"c":45,"t":331,"v":9.7},{"c":45,"t":332,"v":8.9},{"c":45,"t":333,"v":10.6},{"c":45,"t":334,"v":9.0},{"c":45,"t":335,"v":9.5},{"c":45,"t":336,"v":8.8},{"c":45,"t":337,"v":10.4},{"c":45,"t":338,"v":9.1},{"c":45,"t":339,"v":9.4},{"c":45,"t":340,"v":8.7},{"c":45,"t":341,"v":10.8},{"c":45,"t":342,"v":8.9},{"c":45,"t":343,"v":9.6},{"c":45,"t":344,"v":8.6},{"c":45,"t":345,"v":10.3},{"c":45,"t":346,"v":9.0},{"c":45,"t":347,"v":9.5},{"c":45,"t":348,"v":8.4},{"c":45,"t":349,"v":10.9},{"c":45,"t":350,"v":8.6},{"c":45,"t":350.5,"v":9.2},{"c":45,"t":350.8,"v":-3},{"c":45,"t":351.5,"v":-3},{"c":45,"t":351.8,"v":9.4},{"c":45,"t":352.7,"v":6.71},{"c":45,"t":353.5,"v":10.5},{"c":45,"t":354.5,"v":8.3},{"c":45,"t":355.3,"v":10.8},{"c":45,"t":356,"v":8.0},{"c":45,"t":357,"v":10.9},{"c":45,"t":358,"v":8.5},{"c":45,"t":359,"v":5.3},{"c":45,"t":360,"v":10.6},{"c":45,"t":361,"v":9.0},{"c":45,"t":361.5,"v":6.3},{"c":45,"t":362.5,"v":10.8},{"c":45,"t":363.5,"v":8.4},{"c":45,"t":364.5,"v":11},{"c":45,"t":365.5,"v":8.2},{"c":45,"t":366.5,"v":10.3},{"c":45,"t":367.5,"v":8.7},{"c":45,"t":368.5,"v":10.9},{"c":45,"t":369.5,"v":8.0},{"c":45,"t":370.5,"v":11},{"c":45,"t":371.5,"v":8.5},{"c":45,"t":372.5,"v":10.5},{"c":45,"t":373.5,"v":7.8},{"c":45,"t":374.5,"v":10.8},{"c":45,"t":375.5,"v":8.6},{"c":45,"t":376.5,"v":11},{"c":45,"t":377.5,"v":8.3},{"c":45,"t":378.5,"v":10.2},{"c":45,"t":379.5,"v":8.9},{"c":45,"t":380.5,"v":10.7},{"c":45,"t":381.5,"v":2.92},{"c":45,"t":382.5,"v":10.9},{"c":45,"t":383.5,"v":8.1},{"c":45,"t":384.5,"v":11},{"c":45,"t":385.7,"v":4.43},{"c":45,"t":386.5,"v":10.6},{"c":45,"t":387.5,"v":8.4},{"c":45,"t":388.5,"v":11},{"c":45,"t":389.5,"v":8.0},{"c":45,"t":390.5,"v":10.8},{"c":45,"t":391.5,"v":8.6},{"c":45,"t":392.5,"v":11},{"c":45,"t":393.5,"v":8.2},{"c":45,"t":394.5,"v":10.9},{"c":45,"t":395.5,"v":7.9},{"c":45,"t":396.5,"v":11},{"c":45,"t":397.5,"v":8.5},{"c":45,"t":398.5,"v":10.6},{"c":45,"t":399.5,"v":8.1},{"c":45,"t":400.5,"v":11},{"c":45,"t":401.5,"v":8.7},{"c":45,"t":402.5,"v":10.4},{"c":45,"t":403.5,"v":8.3},{"c":45,"t":404.5,"v":11},{"c":45,"t":405.5,"v":8.0},{"c":45,"t":406.5,"v":10.8},{"c":45,"t":407.5,"v":8.6},{"c":45,"t":408.5,"v":11},{"c":45,"t":409.5,"v":8.4},{"c":45,"t":410.5,"v":10.5},{"c":45,"t":411.5,"v":7.9},{"c":45,"t":412.5,"v":10.9},{"c":45,"t":413.5,"v":8.8},{"c":45,"t":414.5,"v":11},{"c":45,"t":415.5,"v":8.2},{"c":45,"t":416.5,"v":10.3},{"c":45,"t":417.8,"v":5.56},{"c":45,"t":418.8,"v":10.8},{"c":45,"t":419.5,"v":8.5},{"c":45,"t":420.5,"v":11},{"c":45,"t":421.5,"v":8.1},{"c":45,"t":422.5,"v":10.7},{"c":45,"t":423.5,"v":8.7},{"c":45,"t":424.5,"v":11},{"c":45,"t":425.5,"v":7.8},{"c":45,"t":426.5,"v":10.4},{"c":45,"t":427.5,"v":9.0},{"c":45,"t":427.8,"v":-3},{"c":45,"t":428.5,"v":-3},{"c":45,"t":428.8,"v":9.2},{"c":45,"t":429.5,"v":10.6},{"c":45,"t":430.2,"v":4.94},{"c":45,"t":431,"v":10.9},{"c":45,"t":432,"v":8.3},{"c":45,"t":433,"v":11},{"c":45,"t":434,"v":8.6},{"c":45,"t":435,"v":10.2},{"c":45,"t":436,"v":7.9},{"c":45,"t":437,"v":10.8},{"c":45,"t":438,"v":9.0},{"c":45,"t":438.3,"v":-3},{"c":45,"t":439,"v":-3},{"c":45,"t":439.3,"v":9.1},{"c":45,"t":440,"v":10.5},{"c":45,"t":441,"v":8.4},{"c":45,"t":442,"v":11},{"c":45,"t":443,"v":8.7},{"c":45,"t":444,"v":10.1},{"c":45,"t":445,"v":8.2},{"c":45,"t":446,"v":10.9},{"c":45,"t":447,"v":8.8},{"c":45,"t":448,"v":9.8},{"c":45,"t":449,"v":8.5},{"c":45,"t":450,"v":10.6},{"c":45,"t":451,"v":8.9},{"c":45,"t":452,"v":6.39},{"c":45,"t":453,"v":10.7},{"c":45,"t":454,"v":8.4},{"c":45,"t":455,"v":11},{"c":45,"t":456,"v":8.8},{"c":45,"t":457,"v":9.9},{"c":45,"t":458,"v":8.2},{"c":45,"t":459,"v":10.5},{"c":45,"t":460,"v":6.43},{"c":45,"t":461,"v":10.8},{"c":45,"t":462,"v":8.6},{"c":45,"t":463,"v":10.2},{"c":45,"t":464,"v":8.9},{"c":45,"t":465,"v":11},{"c":45,"t":466,"v":8.3},{"c":45,"t":467,"v":9.7},{"c":45,"t":468,"v":8.7},{"c":45,"t":469,"v":10.6},{"c":45,"t":470,"v":8.9},{"c":45,"t":471,"v":9.5},{"c":45,"t":472,"v":8.6},{"c":45,"t":473,"v":10.4},{"c":45,"t":474,"v":9.0},{"c":45,"t":475,"v":9.6},{"c":45,"t":476,"v":8.8},{"c":45,"t":477,"v":10.9},{"c":45,"t":478,"v":8.5},{"c":45,"t":479,"v":9.4},{"c":45,"t":480,"v":8.9},{"c":45,"t":481,"v":10.2},{"c":45,"t":482,"v":7.48},{"c":45,"t":483,"v":9.8},{"c":45,"t":484,"v":8.8},{"c":45,"t":485,"v":10.7},{"c":45,"t":486,"v":8.6},{"c":45,"t":487,"v":9.3},{"c":45,"t":488,"v":8.9},{"c":45,"t":489,"v":10.5},{"c":45,"t":490,"v":8.7},{"c":45,"t":491,"v":9.6},{"c":45,"t":492,"v":9.0},{"c":45,"t":493,"v":9.4},{"c":45,"t":494,"v":8.8},{"c":45,"t":495,"v":10.3},{"c":45,"t":496,"v":9.0},{"c":45,"t":497,"v":9.7},{"c":45,"t":498,"v":8.9},{"c":45,"t":499,"v":9.5},{"c":45,"t":500,"v":8.7},{"c":45,"t":501,"v":10.6},{"c":45,"t":502,"v":8.5},{"c":45,"t":503,"v":9.8},{"c":45,"t":504,"v":5.76},{"c":45,"t":505,"v":10.5},{"c":45,"t":506,"v":8.4},{"c":45,"t":507,"v":11},{"c":45,"t":508,"v":8.1},{"c":45,"t":509,"v":10.8},{"c":45,"t":510,"v":8.6},{"c":45,"t":511,"v":11},{"c":45,"t":512,"v":8.2},{"c":45,"t":513,"v":10.4},{"c":45,"t":514.5,"v":6.55},{"c":45,"t":515.5,"v":10.9},{"c":45,"t":516.5,"v":8.3},{"c":45,"t":517.5,"v":11},{"c":45,"t":518.3,"v":8.8},{"c":45,"t":519,"v":5.36},{"c":45,"t":520,"v":10.6},{"c":45,"t":520.8,"v":9.0},{"c":45,"t":521,"v":-3},{"c":45,"t":521.7,"v":-3},{"c":45,"t":522,"v":9.3},{"c":45,"t":523,"v":10.8},{"c":45,"t":524,"v":8.0},{"c":45,"t":525,"v":11},{"c":45,"t":526,"v":8.5},{"c":45,"t":527,"v":9.6},{"c":45,"t":527.8,"v":5.27},{"c":45,"t":528.8,"v":10.7},{"c":45,"t":529.5,"v":8.2},{"c":45,"t":530.5,"v":11},{"c":45,"t":531.5,"v":8.6},{"c":45,"t":532.5,"v":10.3},{"c":45,"t":533.5,"v":8.1},{"c":45,"t":534.5,"v":10.9},{"c":45,"t":535.2,"v":9.0},{"c":45,"t":535.5,"v":-3},{"c":45,"t":536.2,"v":-3},{"c":45,"t":536.5,"v":9.2},{"c":45,"t":537.5,"v":10.6},{"c":45,"t":538.5,"v":8.4},{"c":45,"t":539.5,"v":11},{"c":45,"t":540.5,"v":8.7},{"c":45,"t":541.5,"v":10.1},{"c":45,"t":542.5,"v":8.3},{"c":45,"t":543.5,"v":10.8},{"c":45,"t":544.5,"v":8.9},{"c":45,"t":545.5,"v":9.6},{"c":45,"t":546.5,"v":8.5},{"c":45,"t":547.5,"v":10.9},{"c":45,"t":548.5,"v":8.7},{"c":45,"t":549.5,"v":9.9},{"c":45,"t":550.5,"v":8.2},{"c":45,"t":551.5,"v":10.5},{"c":45,"t":552.5,"v":8.8},{"c":45,"t":553.5,"v":11},{"c":45,"t":554.5,"v":8.4},{"c":45,"t":555.5,"v":9.7},{"c":45,"t":556.5,"v":8.9},{"c":45,"t":557.5,"v":10.6},{"c":45,"t":558.5,"v":8.5},{"c":45,"t":559.5,"v":10.2},{"c":45,"t":560.5,"v":8.0},{"c":45,"t":561.5,"v":10.8},{"c":45,"t":562.5,"v":8.6},{"c":45,"t":563.5,"v":10.4},{"c":45,"t":564.5,"v":2.92},{"c":45,"t":565.5,"v":10.9},{"c":45,"t":566.5,"v":8.3},{"c":45,"t":567.5,"v":11},{"c":45,"t":568.5,"v":8.7},{"c":45,"t":569.5,"v":10.3},{"c":45,"t":570.5,"v":8.1},{"c":45,"t":571.5,"v":10.8},{"c":45,"t":572.5,"v":8.6},{"c":45,"t":573.5,"v":9.8},{"c":45,"t":574.5,"v":8.9},{"c":45,"t":575.5,"v":10.5},{"c":45,"t":576.5,"v":8.4},{"c":45,"t":577.5,"v":11},{"c":45,"t":578.5,"v":8.6},{"c":45,"t":579.5,"v":9.6},{"c":45,"t":580.5,"v":8.8},{"c":45,"t":581.5,"v":10.7},{"c":45,"t":582.5,"v":8.5},{"c":45,"t":583.5,"v":9.9},{"c":45,"t":584.5,"v":8.8},{"c":45,"t":585.5,"v":10.4},{"c":45,"t":586.5,"v":8.6},{"c":45,"t":587.4,"v":7.16},{"c":45,"t":588.3,"v":10.1},{"c":45,"t":589,"v":8.7},{"c":45,"t":590,"v":9.7},{"c":45,"t":591,"v":8.8},{"c":45,"t":592,"v":10.6},{"c":45,"t":593,"v":8.9},{"c":45,"t":594,"v":9.8},{"c":45,"t":595,"v":3.77},{"c":45,"t":596,"v":10.3},{"c":45,"t":597,"v":9.4},{"c":45,"t":598,"v":9.9},{"c":45,"t":599,"v":8.9},{"c":45,"t":600,"v":9.1}
    ]
  },
  "hconcat": [
    {
      "width": 1834,
      "height": 1392,
      "layer": [
        {
          "data": {"name": "levels"},
          "mark": {"type": "rule", "color": "#a8a8a8", "strokeWidth": 1.2},
          "encoding": {
            "x": {"datum": 10.3, "type": "quantitative", "scale": {"domain": [0, 600], "nice": false, "zero": false}, "axis": {"orient": "bottom", "tickCount": 300, "labels": false, "domain": false, "tickSize": 2.7, "tickWidth": 1}},
            "x2": {"datum": 600},
            "y": {"field": "g", "type": "quantitative", "scale": {"domain": [-0.2, 10], "nice": false, "zero": false}, "axis": null}
          }
        },
        {
          "data": {"name": "traces"},
          "mark": {"type": "line", "strokeWidth": 2, "clip": true, "strokeJoin": "round"},
          "encoding": {
            "x": {"field": "t", "type": "quantitative", "axis": {"orient": "bottom", "values": [0,20,40,60,80,100,120,140,160,180,200,220,240,260,280,300,320,340,360,380,400,420,440,460,480,500,520,540,560,580,600], "labelExpr": "utcFormat(datum.value * 60000, '%H:%M')", "labelOverlap": false, "labelFlush": false, "tickSize": 5, "labelPadding": 5}},
            "y": {"field": "v", "type": "quantitative", "axis": {"values": [0, 2, 4, 6, 8, 10], "tickSize": 5, "labelPadding": 5}},
            "detail": {"field": "c"},
            "color": {"field": "c", "type": "quantitative", "legend": null, "scale": {"domain": [0, 8, 14, 18, 20, 22, 24, 26, 28, 30, 32, 33, 34, 35, 36, 38, 40, 42, 44, 45], "range": ["#ff0000", "#e60800", "#cc2400", "#b33600", "#8c4400", "#704c00", "#5e5600", "#4c6000", "#326a00", "#187800", "#009a12", "#007a34", "#006a4c", "#005c5e", "#004e72", "#004090", "#0030aa", "#0018cc", "#0008ec", "#0000ff"], "interpolate": "rgb"}}
          }
        }
      ],
      "resolve": {"axis": {"x": "independent", "y": "independent"}}
    },
    {
      "width": 52,
      "height": 1392,
      "data": {"name": "panel"},
      "encoding": {
        "x": {"field": "x", "type": "quantitative", "scale": {"domain": [-1.625, 1.625], "nice": false, "zero": false}, "axis": {"values": [-1, 0, 1], "labels": false, "tickSize": 5}},
        "y": {"field": "y", "type": "quantitative", "scale": {"domain": [-0.2, 10], "nice": false, "zero": false}, "axis": {"values": [0, 2, 4, 6, 8, 10], "labels": false, "tickSize": 5}}
      },
      "layer": [
        {"mark": {"type": "line", "color": "#444444", "strokeWidth": 1}, "encoding": {"order": {"field": "c", "type": "quantitative"}}},
        {"mark": {"type": "point", "filled": true, "size": 140, "opacity": 1},
         "encoding": {"color": {"field": "c", "type": "quantitative", "legend": null, "scale": {"domain": [0, 8, 14, 18, 20, 22, 24, 26, 28, 30, 32, 33, 34, 35, 36, 38, 40, 42, 44, 45], "range": ["#ff0000", "#e60800", "#cc2400", "#b33600", "#8c4400", "#704c00", "#5e5600", "#4c6000", "#326a00", "#187800", "#009a12", "#007a34", "#006a4c", "#005c5e", "#004e72", "#004090", "#0030aa", "#0018cc", "#0008ec", "#0000ff"], "interpolate": "rgb"}}}}
      ]
    }
  ]
}
